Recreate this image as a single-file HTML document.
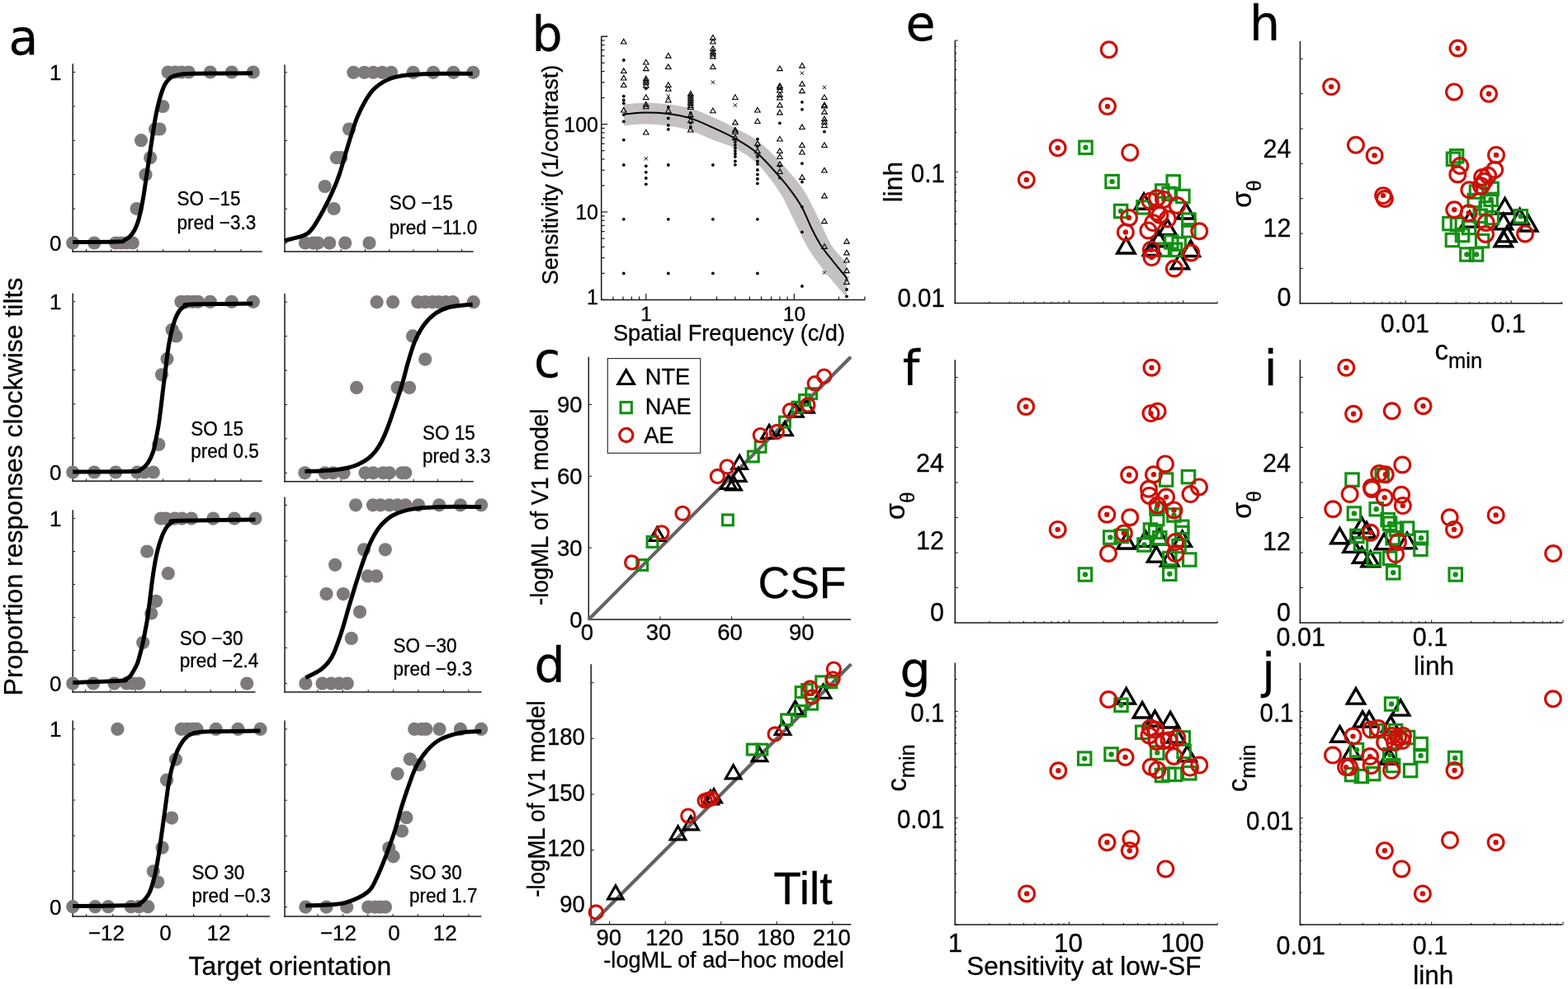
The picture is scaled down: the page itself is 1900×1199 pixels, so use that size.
<!DOCTYPE html>
<html><head><meta charset="utf-8"><title>Figure</title>
<style>html,body{margin:0;padding:0;background:#fff;overflow:hidden}svg{display:block}</style>
</head><body>
<svg width="1900" height="1199" viewBox="0 0 1900 1199">
<rect width="1900" height="1199" fill="#fff"/>
<text x="10.5" y="65.5" font-size="58.5" text-anchor="start" font-family="'DejaVu Sans', 'Liberation Sans', sans-serif" stroke="#000" stroke-width="0.3" >a</text>
<text x="26.5" y="590" font-size="32" text-anchor="middle" font-family="'Liberation Sans', Arial, Helvetica, sans-serif" transform="rotate(-90 26.5 590)" stroke="#000" stroke-width="0.3" >Proportion responses clockwise tilts</text>
<text x="351.4" y="1181.5" font-size="31.8" text-anchor="middle" font-family="'Liberation Sans', Arial, Helvetica, sans-serif" stroke="#000" stroke-width="0.3" >Target orientation</text>
<line x1="88.2" y1="77.3" x2="88.2" y2="305.75" stroke="#1a1a1a" stroke-width="1.5" />
<line x1="87.45" y1="305" x2="317.6" y2="305" stroke="#1a1a1a" stroke-width="1.5" />
<line x1="88.2" y1="294.5" x2="91.2" y2="294.5" stroke="#1a1a1a" stroke-width="1" />
<line x1="88.2" y1="253.1" x2="91.2" y2="253.1" stroke="#1a1a1a" stroke-width="1" />
<line x1="88.2" y1="211.7" x2="91.2" y2="211.7" stroke="#1a1a1a" stroke-width="1" />
<line x1="88.2" y1="170.3" x2="91.2" y2="170.3" stroke="#1a1a1a" stroke-width="1" />
<line x1="88.2" y1="128.9" x2="91.2" y2="128.9" stroke="#1a1a1a" stroke-width="1" />
<line x1="88.2" y1="87.5" x2="91.2" y2="87.5" stroke="#1a1a1a" stroke-width="1" />
<line x1="104.5" y1="305" x2="104.5" y2="302" stroke="#1a1a1a" stroke-width="1" />
<line x1="134.8" y1="305" x2="134.8" y2="302" stroke="#1a1a1a" stroke-width="1" />
<line x1="166.3" y1="305" x2="166.3" y2="302" stroke="#1a1a1a" stroke-width="1" />
<line x1="197.7" y1="305" x2="197.7" y2="302" stroke="#1a1a1a" stroke-width="1" />
<line x1="229.2" y1="305" x2="229.2" y2="302" stroke="#1a1a1a" stroke-width="1" />
<line x1="260.6" y1="305" x2="260.6" y2="302" stroke="#1a1a1a" stroke-width="1" />
<line x1="292" y1="305" x2="292" y2="302" stroke="#1a1a1a" stroke-width="1" />
<circle cx="88.2" cy="294.5" r="8.1" fill="#7e7a7a"/>
<circle cx="114.2" cy="294.5" r="8.1" fill="#7e7a7a"/>
<circle cx="140.2" cy="294.5" r="8.1" fill="#7e7a7a"/>
<circle cx="146.7" cy="294.5" r="8.1" fill="#7e7a7a"/>
<circle cx="153.3" cy="294.5" r="8.1" fill="#7e7a7a"/>
<circle cx="160.8" cy="294.5" r="8.1" fill="#7e7a7a"/>
<circle cx="203.6" cy="87.5" r="8.1" fill="#7e7a7a"/>
<circle cx="212" cy="87.5" r="8.1" fill="#7e7a7a"/>
<circle cx="220" cy="87.5" r="8.1" fill="#7e7a7a"/>
<circle cx="228.7" cy="87.5" r="8.1" fill="#7e7a7a"/>
<circle cx="254.8" cy="87.5" r="8.1" fill="#7e7a7a"/>
<circle cx="280.8" cy="87.5" r="8.1" fill="#7e7a7a"/>
<circle cx="306.8" cy="87.5" r="8.1" fill="#7e7a7a"/>
<circle cx="197.3" cy="129" r="8.1" fill="#7e7a7a"/>
<circle cx="188" cy="156.5" r="8.1" fill="#7e7a7a"/>
<circle cx="193.4" cy="156.5" r="8.1" fill="#7e7a7a"/>
<circle cx="171" cy="170.2" r="8.1" fill="#7e7a7a"/>
<circle cx="182.1" cy="191.2" r="8.1" fill="#7e7a7a"/>
<circle cx="176.5" cy="211.8" r="8.1" fill="#7e7a7a"/>
<circle cx="165.6" cy="253" r="8.1" fill="#7e7a7a"/>
<path d="M88.2,293.6 C97.23,293.52 131.92,293.53 142.4,293.1 C152.88,292.67 148.57,292.08 151.1,291 C153.63,289.92 155.62,288.6 157.6,286.6 C159.58,284.6 161.37,282.07 163,279 C164.63,275.93 166.13,272.17 167.4,268.2 C168.67,264.23 169.52,260.27 170.6,255.2 C171.68,250.13 172.82,244.32 173.9,237.8 C174.98,231.28 176.02,223.32 177.1,216.1 C178.18,208.88 179.32,201.72 180.4,194.5 C181.48,187.28 182.52,180.03 183.6,172.8 C184.68,165.57 185.82,157.62 186.9,151.1 C187.98,144.58 188.83,139.48 190.1,133.7 C191.37,127.92 192.87,121.63 194.5,116.4 C196.13,111.17 197.73,106.1 199.9,102.3 C202.07,98.5 204.43,95.58 207.5,93.6 C210.57,91.62 213.97,91.12 218.3,90.4 C222.63,89.68 218.85,89.57 233.5,89.3 C248.15,89.03 294.08,88.88 306.2,88.8" fill="none" stroke="#000" stroke-width="5"/>
<text x="0" y="0" font-size="22.5" text-anchor="start" font-family="'Liberation Sans', Arial, Helvetica, sans-serif" transform="translate(214.6 249.4) scale(1 1.06)" stroke="#000" stroke-width="0.3" >SO −15</text>
<text x="0" y="0" font-size="22.5" text-anchor="start" font-family="'Liberation Sans', Arial, Helvetica, sans-serif" transform="translate(214.6 278.1) scale(1 1.06)" stroke="#000" stroke-width="0.3" >pred −3.3</text>
<text x="74.5" y="96.8" font-size="26" text-anchor="end" font-family="'Liberation Sans', Arial, Helvetica, sans-serif" stroke="#000" stroke-width="0.3" >1</text>
<text x="74.5" y="303.8" font-size="26" text-anchor="end" font-family="'Liberation Sans', Arial, Helvetica, sans-serif" stroke="#000" stroke-width="0.3" >0</text>
<line x1="345" y1="78.4" x2="345" y2="305.75" stroke="#1a1a1a" stroke-width="1.5" />
<line x1="344.25" y1="305" x2="573.7" y2="305" stroke="#1a1a1a" stroke-width="1.5" />
<line x1="345" y1="294.6" x2="348" y2="294.6" stroke="#1a1a1a" stroke-width="1" />
<line x1="345" y1="253.24" x2="348" y2="253.24" stroke="#1a1a1a" stroke-width="1" />
<line x1="345" y1="211.88" x2="348" y2="211.88" stroke="#1a1a1a" stroke-width="1" />
<line x1="345" y1="170.52" x2="348" y2="170.52" stroke="#1a1a1a" stroke-width="1" />
<line x1="345" y1="129.16" x2="348" y2="129.16" stroke="#1a1a1a" stroke-width="1" />
<line x1="345" y1="87.8" x2="348" y2="87.8" stroke="#1a1a1a" stroke-width="1" />
<line x1="384" y1="305" x2="384" y2="302" stroke="#1a1a1a" stroke-width="1" />
<line x1="413.3" y1="305" x2="413.3" y2="302" stroke="#1a1a1a" stroke-width="1" />
<line x1="442.5" y1="305" x2="442.5" y2="302" stroke="#1a1a1a" stroke-width="1" />
<line x1="471.8" y1="305" x2="471.8" y2="302" stroke="#1a1a1a" stroke-width="1" />
<line x1="501" y1="305" x2="501" y2="302" stroke="#1a1a1a" stroke-width="1" />
<line x1="530.4" y1="305" x2="530.4" y2="302" stroke="#1a1a1a" stroke-width="1" />
<line x1="559.6" y1="305" x2="559.6" y2="302" stroke="#1a1a1a" stroke-width="1" />
<circle cx="369.9" cy="294.6" r="8.1" fill="#7e7a7a"/>
<circle cx="379.6" cy="294.6" r="8.1" fill="#7e7a7a"/>
<circle cx="385.1" cy="294.6" r="8.1" fill="#7e7a7a"/>
<circle cx="399.2" cy="294.6" r="8.1" fill="#7e7a7a"/>
<circle cx="418.2" cy="294.6" r="8.1" fill="#7e7a7a"/>
<circle cx="447.5" cy="294.6" r="8.1" fill="#7e7a7a"/>
<circle cx="428.4" cy="87.8" r="8.1" fill="#7e7a7a"/>
<circle cx="441.4" cy="87.8" r="8.1" fill="#7e7a7a"/>
<circle cx="452.3" cy="87.8" r="8.1" fill="#7e7a7a"/>
<circle cx="463.1" cy="87.8" r="8.1" fill="#7e7a7a"/>
<circle cx="474" cy="87.8" r="8.1" fill="#7e7a7a"/>
<circle cx="500.7" cy="87.8" r="8.1" fill="#7e7a7a"/>
<circle cx="525" cy="87.8" r="8.1" fill="#7e7a7a"/>
<circle cx="549.5" cy="87.8" r="8.1" fill="#7e7a7a"/>
<circle cx="573.3" cy="87.8" r="8.1" fill="#7e7a7a"/>
<circle cx="423" cy="156.5" r="8.1" fill="#7e7a7a"/>
<circle cx="407.8" cy="191.2" r="8.1" fill="#7e7a7a"/>
<circle cx="413.3" cy="191.2" r="8.1" fill="#7e7a7a"/>
<circle cx="393.7" cy="226" r="8.1" fill="#7e7a7a"/>
<circle cx="404.6" cy="253" r="8.1" fill="#7e7a7a"/>
<path d="M345,291.6 C348.78,290.58 362.1,287.95 367.7,285.5 C373.3,283.05 374.62,281.95 378.6,276.9 C382.58,271.85 387.63,262.43 391.6,255.2 C395.57,247.97 399.15,240.73 402.4,233.5 C405.65,226.27 408.57,219.03 411.1,211.8 C413.63,204.57 415.43,197.33 417.6,190.1 C419.77,182.87 421.57,176.35 424.1,168.4 C426.63,160.45 429.55,150.35 432.8,142.4 C436.05,134.45 439.98,126.67 443.6,120.7 C447.22,114.73 449.8,110.75 454.5,106.6 C459.2,102.45 465.3,98.4 471.8,95.8 C478.3,93.2 482.65,92.08 493.5,91 C504.35,89.92 523.7,89.58 536.9,89.3 C550.1,89.02 566.73,89.3 572.7,89.3" fill="none" stroke="#000" stroke-width="5"/>
<text x="0" y="0" font-size="22.5" text-anchor="start" font-family="'Liberation Sans', Arial, Helvetica, sans-serif" transform="translate(471.8 254.2) scale(1 1.06)" stroke="#000" stroke-width="0.3" >SO −15</text>
<text x="0" y="0" font-size="22.5" text-anchor="start" font-family="'Liberation Sans', Arial, Helvetica, sans-serif" transform="translate(471.8 283.5) scale(1 1.06)" stroke="#000" stroke-width="0.3" >pred −11.0</text>
<line x1="88.2" y1="355.6" x2="88.2" y2="584.05" stroke="#1a1a1a" stroke-width="1.5" />
<line x1="87.45" y1="583.3" x2="317.6" y2="583.3" stroke="#1a1a1a" stroke-width="1.5" />
<line x1="88.2" y1="572.5" x2="91.2" y2="572.5" stroke="#1a1a1a" stroke-width="1" />
<line x1="88.2" y1="531.16" x2="91.2" y2="531.16" stroke="#1a1a1a" stroke-width="1" />
<line x1="88.2" y1="489.82" x2="91.2" y2="489.82" stroke="#1a1a1a" stroke-width="1" />
<line x1="88.2" y1="448.48" x2="91.2" y2="448.48" stroke="#1a1a1a" stroke-width="1" />
<line x1="88.2" y1="407.14" x2="91.2" y2="407.14" stroke="#1a1a1a" stroke-width="1" />
<line x1="88.2" y1="365.8" x2="91.2" y2="365.8" stroke="#1a1a1a" stroke-width="1" />
<line x1="104.5" y1="583.3" x2="104.5" y2="580.3" stroke="#1a1a1a" stroke-width="1" />
<line x1="134.8" y1="583.3" x2="134.8" y2="580.3" stroke="#1a1a1a" stroke-width="1" />
<line x1="166.3" y1="583.3" x2="166.3" y2="580.3" stroke="#1a1a1a" stroke-width="1" />
<line x1="197.7" y1="583.3" x2="197.7" y2="580.3" stroke="#1a1a1a" stroke-width="1" />
<line x1="229.2" y1="583.3" x2="229.2" y2="580.3" stroke="#1a1a1a" stroke-width="1" />
<line x1="260.6" y1="583.3" x2="260.6" y2="580.3" stroke="#1a1a1a" stroke-width="1" />
<line x1="292" y1="583.3" x2="292" y2="580.3" stroke="#1a1a1a" stroke-width="1" />
<circle cx="88.2" cy="572.5" r="8.1" fill="#7e7a7a"/>
<circle cx="114.2" cy="572.5" r="8.1" fill="#7e7a7a"/>
<circle cx="140.2" cy="572.5" r="8.1" fill="#7e7a7a"/>
<circle cx="166.3" cy="572.5" r="8.1" fill="#7e7a7a"/>
<circle cx="175" cy="572.5" r="8.1" fill="#7e7a7a"/>
<circle cx="185.8" cy="572.5" r="8.1" fill="#7e7a7a"/>
<circle cx="219.4" cy="365.8" r="8.1" fill="#7e7a7a"/>
<circle cx="227" cy="365.8" r="8.1" fill="#7e7a7a"/>
<circle cx="233.5" cy="365.8" r="8.1" fill="#7e7a7a"/>
<circle cx="240" cy="365.8" r="8.1" fill="#7e7a7a"/>
<circle cx="254.8" cy="365.8" r="8.1" fill="#7e7a7a"/>
<circle cx="280.8" cy="365.8" r="8.1" fill="#7e7a7a"/>
<circle cx="306.8" cy="365.8" r="8.1" fill="#7e7a7a"/>
<circle cx="208.6" cy="399.8" r="8.1" fill="#7e7a7a"/>
<circle cx="213.3" cy="407.4" r="8.1" fill="#7e7a7a"/>
<circle cx="202.5" cy="435.2" r="8.1" fill="#7e7a7a"/>
<circle cx="196" cy="454.3" r="8.1" fill="#7e7a7a"/>
<circle cx="192.3" cy="538.9" r="8.1" fill="#7e7a7a"/>
<path d="M88.2,572 C100.17,571.92 146.37,571.92 160,571.5 C173.63,571.08 167.5,570.42 170,569.5 C172.5,568.58 173.33,567.58 175,566 C176.67,564.42 178.2,563.18 180,560 C181.8,556.82 184.3,551.57 185.8,546.9 C187.3,542.23 187.92,537.43 189,532 C190.08,526.57 191.3,520.63 192.3,514.3 C193.3,507.97 194.1,501.22 195,494 C195.9,486.78 196.78,478.5 197.7,471 C198.62,463.5 199.6,456.23 200.5,449 C201.4,441.77 202.18,434.1 203.1,427.6 C204.02,421.1 204.92,415.42 206,410 C207.08,404.58 208.43,399.27 209.6,395.1 C210.77,390.93 211.55,388.27 213,385 C214.45,381.73 216.3,377.83 218.3,375.5 C220.3,373.17 222.83,372.08 225,371 C227.17,369.92 217.77,369.5 231.3,369 C244.83,368.5 293.72,368.17 306.2,368" fill="none" stroke="#000" stroke-width="5"/>
<text x="0" y="0" font-size="22.5" text-anchor="start" font-family="'Liberation Sans', Arial, Helvetica, sans-serif" transform="translate(231.3 527.5) scale(1 1.06)" stroke="#000" stroke-width="0.3" >SO 15</text>
<text x="0" y="0" font-size="22.5" text-anchor="start" font-family="'Liberation Sans', Arial, Helvetica, sans-serif" transform="translate(231.3 554.6) scale(1 1.06)" stroke="#000" stroke-width="0.3" >pred 0.5</text>
<text x="74.5" y="375.1" font-size="26" text-anchor="end" font-family="'Liberation Sans', Arial, Helvetica, sans-serif" stroke="#000" stroke-width="0.3" >1</text>
<text x="74.5" y="581.8" font-size="26" text-anchor="end" font-family="'Liberation Sans', Arial, Helvetica, sans-serif" stroke="#000" stroke-width="0.3" >0</text>
<line x1="345" y1="356" x2="345" y2="584.45" stroke="#1a1a1a" stroke-width="1.5" />
<line x1="344.25" y1="583.7" x2="573.7" y2="583.7" stroke="#1a1a1a" stroke-width="1.5" />
<line x1="345" y1="573.3" x2="348" y2="573.3" stroke="#1a1a1a" stroke-width="1" />
<line x1="345" y1="531.88" x2="348" y2="531.88" stroke="#1a1a1a" stroke-width="1" />
<line x1="345" y1="490.46" x2="348" y2="490.46" stroke="#1a1a1a" stroke-width="1" />
<line x1="345" y1="449.04" x2="348" y2="449.04" stroke="#1a1a1a" stroke-width="1" />
<line x1="345" y1="407.62" x2="348" y2="407.62" stroke="#1a1a1a" stroke-width="1" />
<line x1="345" y1="366.2" x2="348" y2="366.2" stroke="#1a1a1a" stroke-width="1" />
<line x1="384" y1="583.7" x2="384" y2="580.7" stroke="#1a1a1a" stroke-width="1" />
<line x1="413.3" y1="583.7" x2="413.3" y2="580.7" stroke="#1a1a1a" stroke-width="1" />
<line x1="442.5" y1="583.7" x2="442.5" y2="580.7" stroke="#1a1a1a" stroke-width="1" />
<line x1="471.8" y1="583.7" x2="471.8" y2="580.7" stroke="#1a1a1a" stroke-width="1" />
<line x1="501" y1="583.7" x2="501" y2="580.7" stroke="#1a1a1a" stroke-width="1" />
<line x1="530.4" y1="583.7" x2="530.4" y2="580.7" stroke="#1a1a1a" stroke-width="1" />
<line x1="559.6" y1="583.7" x2="559.6" y2="580.7" stroke="#1a1a1a" stroke-width="1" />
<circle cx="369.4" cy="573.3" r="8.1" fill="#7e7a7a"/>
<circle cx="393.7" cy="573.3" r="8.1" fill="#7e7a7a"/>
<circle cx="403.5" cy="573.3" r="8.1" fill="#7e7a7a"/>
<circle cx="416.5" cy="573.3" r="8.1" fill="#7e7a7a"/>
<circle cx="442.5" cy="573.3" r="8.1" fill="#7e7a7a"/>
<circle cx="452.3" cy="573.3" r="8.1" fill="#7e7a7a"/>
<circle cx="464.2" cy="573.3" r="8.1" fill="#7e7a7a"/>
<circle cx="471.8" cy="573.3" r="8.1" fill="#7e7a7a"/>
<circle cx="487" cy="573.3" r="8.1" fill="#7e7a7a"/>
<circle cx="491.3" cy="573.3" r="8.1" fill="#7e7a7a"/>
<circle cx="456.6" cy="366.2" r="8.1" fill="#7e7a7a"/>
<circle cx="476.1" cy="366.2" r="8.1" fill="#7e7a7a"/>
<circle cx="506.3" cy="366.2" r="8.1" fill="#7e7a7a"/>
<circle cx="515.2" cy="366.2" r="8.1" fill="#7e7a7a"/>
<circle cx="523.9" cy="366.2" r="8.1" fill="#7e7a7a"/>
<circle cx="531.5" cy="366.2" r="8.1" fill="#7e7a7a"/>
<circle cx="540.1" cy="366.2" r="8.1" fill="#7e7a7a"/>
<circle cx="548.8" cy="366.2" r="8.1" fill="#7e7a7a"/>
<circle cx="573.7" cy="366.2" r="8.1" fill="#7e7a7a"/>
<circle cx="500" cy="407.4" r="8.1" fill="#7e7a7a"/>
<circle cx="515.2" cy="435.6" r="8.1" fill="#7e7a7a"/>
<circle cx="432.1" cy="469.9" r="8.1" fill="#7e7a7a"/>
<circle cx="481.6" cy="469.9" r="8.1" fill="#7e7a7a"/>
<circle cx="496.1" cy="469.9" r="8.1" fill="#7e7a7a"/>
<path d="M369.4,571.4 C372.5,571.33 381.77,571.3 388,571 C394.23,570.7 401.13,570.27 406.8,569.6 C412.47,568.93 417.47,568.1 422,567 C426.53,565.9 430,564.83 434,563 C438,561.17 442.5,558.67 446,556 C449.5,553.33 452.25,550.5 455,547 C457.75,543.5 460.08,539.67 462.5,535 C464.92,530.33 466.83,526 469.5,519 C472.17,512 475.5,502 478.5,493 C481.5,484 484.83,474 487.5,465 C490.17,456 491.92,447.67 494.5,439 C497.08,430.33 499.75,420.58 503,413 C506.25,405.42 510,398.92 514,393.5 C518,388.08 522,384 527,380.5 C532,377 536.38,374.42 544,372.5 C551.62,370.58 567.92,369.58 572.7,369" fill="none" stroke="#000" stroke-width="5"/>
<text x="0" y="0" font-size="22.5" text-anchor="start" font-family="'Liberation Sans', Arial, Helvetica, sans-serif" transform="translate(512 532.9) scale(1 1.06)" stroke="#000" stroke-width="0.3" >SO 15</text>
<text x="0" y="0" font-size="22.5" text-anchor="start" font-family="'Liberation Sans', Arial, Helvetica, sans-serif" transform="translate(512 561.1) scale(1 1.06)" stroke="#000" stroke-width="0.3" >pred 3.3</text>
<line x1="88.2" y1="618.2" x2="88.2" y2="839.75" stroke="#1a1a1a" stroke-width="1.5" />
<line x1="87.45" y1="839" x2="309.4" y2="839" stroke="#1a1a1a" stroke-width="1.5" />
<line x1="88.2" y1="828.6" x2="91.2" y2="828.6" stroke="#1a1a1a" stroke-width="1" />
<line x1="88.2" y1="788.6" x2="91.2" y2="788.6" stroke="#1a1a1a" stroke-width="1" />
<line x1="88.2" y1="748.6" x2="91.2" y2="748.6" stroke="#1a1a1a" stroke-width="1" />
<line x1="88.2" y1="708.6" x2="91.2" y2="708.6" stroke="#1a1a1a" stroke-width="1" />
<line x1="88.2" y1="668.6" x2="91.2" y2="668.6" stroke="#1a1a1a" stroke-width="1" />
<line x1="88.2" y1="628.6" x2="91.2" y2="628.6" stroke="#1a1a1a" stroke-width="1" />
<line x1="103.4" y1="839" x2="103.4" y2="836" stroke="#1a1a1a" stroke-width="1" />
<line x1="133.7" y1="839" x2="133.7" y2="836" stroke="#1a1a1a" stroke-width="1" />
<line x1="164.1" y1="839" x2="164.1" y2="836" stroke="#1a1a1a" stroke-width="1" />
<line x1="194.5" y1="839" x2="194.5" y2="836" stroke="#1a1a1a" stroke-width="1" />
<line x1="224.8" y1="839" x2="224.8" y2="836" stroke="#1a1a1a" stroke-width="1" />
<line x1="255.2" y1="839" x2="255.2" y2="836" stroke="#1a1a1a" stroke-width="1" />
<line x1="285.5" y1="839" x2="285.5" y2="836" stroke="#1a1a1a" stroke-width="1" />
<circle cx="88.2" cy="828.6" r="8.1" fill="#7e7a7a"/>
<circle cx="113.1" cy="828.6" r="8.1" fill="#7e7a7a"/>
<circle cx="138.5" cy="828.6" r="8.1" fill="#7e7a7a"/>
<circle cx="153.3" cy="828.6" r="8.1" fill="#7e7a7a"/>
<circle cx="160.8" cy="828.6" r="8.1" fill="#7e7a7a"/>
<circle cx="168.4" cy="828.6" r="8.1" fill="#7e7a7a"/>
<circle cx="299.2" cy="828.6" r="8.1" fill="#7e7a7a"/>
<circle cx="194.9" cy="628.6" r="8.1" fill="#7e7a7a"/>
<circle cx="201" cy="628.6" r="8.1" fill="#7e7a7a"/>
<circle cx="211.8" cy="628.6" r="8.1" fill="#7e7a7a"/>
<circle cx="220.5" cy="628.6" r="8.1" fill="#7e7a7a"/>
<circle cx="232" cy="628.6" r="8.1" fill="#7e7a7a"/>
<circle cx="258.4" cy="628.6" r="8.1" fill="#7e7a7a"/>
<circle cx="284" cy="628.6" r="8.1" fill="#7e7a7a"/>
<circle cx="309.4" cy="628.6" r="8.1" fill="#7e7a7a"/>
<circle cx="178.2" cy="668.5" r="8.1" fill="#7e7a7a"/>
<circle cx="203.8" cy="695.2" r="8.1" fill="#7e7a7a"/>
<circle cx="189" cy="728.8" r="8.1" fill="#7e7a7a"/>
<circle cx="183.2" cy="743.5" r="8.1" fill="#7e7a7a"/>
<circle cx="173.2" cy="779.1" r="8.1" fill="#7e7a7a"/>
<path d="M88.2,827.5 C97.95,827.13 136.07,825.97 146.7,825.3 C157.33,824.63 150.18,824.4 152,823.5 C153.82,822.6 155.93,821.65 157.6,819.9 C159.27,818.15 160.55,815.53 162,813 C163.45,810.47 165.05,807.87 166.3,804.7 C167.55,801.53 168.42,797.98 169.5,794 C170.58,790.02 171.8,785.3 172.8,780.8 C173.8,776.3 174.6,771.68 175.5,767 C176.4,762.32 177.37,757.87 178.2,752.7 C179.03,747.53 179.78,741.43 180.5,736 C181.22,730.57 181.75,726.1 182.5,720.1 C183.25,714.1 184.08,706.5 185,700 C185.92,693.5 187,686.6 188,681.1 C189,675.6 189.92,671.33 191,667 C192.08,662.67 193.25,658.77 194.5,655.1 C195.75,651.43 197.07,647.9 198.5,645 C199.93,642.1 201.35,639.7 203.1,637.7 C204.85,635.7 206.83,634.08 209,633 C211.17,631.92 199.37,631.68 216.1,631.2 C232.83,630.72 293.85,630.28 309.4,630.1" fill="none" stroke="#000" stroke-width="5"/>
<text x="0" y="0" font-size="22.5" text-anchor="start" font-family="'Liberation Sans', Arial, Helvetica, sans-serif" transform="translate(217.7 782) scale(1 1.06)" stroke="#000" stroke-width="0.3" >SO −30</text>
<text x="0" y="0" font-size="22.5" text-anchor="start" font-family="'Liberation Sans', Arial, Helvetica, sans-serif" transform="translate(217.7 809.2) scale(1 1.06)" stroke="#000" stroke-width="0.3" >pred −2.4</text>
<text x="74.5" y="637.9" font-size="26" text-anchor="end" font-family="'Liberation Sans', Arial, Helvetica, sans-serif" stroke="#000" stroke-width="0.3" >1</text>
<text x="74.5" y="837.9" font-size="26" text-anchor="end" font-family="'Liberation Sans', Arial, Helvetica, sans-serif" stroke="#000" stroke-width="0.3" >0</text>
<line x1="345" y1="602.6" x2="345" y2="839.75" stroke="#1a1a1a" stroke-width="1.5" />
<line x1="344.25" y1="839" x2="583.5" y2="839" stroke="#1a1a1a" stroke-width="1.5" />
<line x1="345" y1="828.6" x2="348" y2="828.6" stroke="#1a1a1a" stroke-width="1" />
<line x1="345" y1="785.34" x2="348" y2="785.34" stroke="#1a1a1a" stroke-width="1" />
<line x1="345" y1="742.08" x2="348" y2="742.08" stroke="#1a1a1a" stroke-width="1" />
<line x1="345" y1="698.82" x2="348" y2="698.82" stroke="#1a1a1a" stroke-width="1" />
<line x1="345" y1="655.56" x2="348" y2="655.56" stroke="#1a1a1a" stroke-width="1" />
<line x1="345" y1="612.3" x2="348" y2="612.3" stroke="#1a1a1a" stroke-width="1" />
<line x1="385" y1="839" x2="385" y2="836" stroke="#1a1a1a" stroke-width="1" />
<line x1="415.4" y1="839" x2="415.4" y2="836" stroke="#1a1a1a" stroke-width="1" />
<line x1="446.2" y1="839" x2="446.2" y2="836" stroke="#1a1a1a" stroke-width="1" />
<line x1="476.6" y1="839" x2="476.6" y2="836" stroke="#1a1a1a" stroke-width="1" />
<line x1="507" y1="839" x2="507" y2="836" stroke="#1a1a1a" stroke-width="1" />
<line x1="537.5" y1="839" x2="537.5" y2="836" stroke="#1a1a1a" stroke-width="1" />
<line x1="567.9" y1="839" x2="567.9" y2="836" stroke="#1a1a1a" stroke-width="1" />
<circle cx="370.3" cy="828.6" r="8.1" fill="#7e7a7a"/>
<circle cx="390.5" cy="828.6" r="8.1" fill="#7e7a7a"/>
<circle cx="401.3" cy="828.6" r="8.1" fill="#7e7a7a"/>
<circle cx="411.1" cy="828.6" r="8.1" fill="#7e7a7a"/>
<circle cx="420.8" cy="828.6" r="8.1" fill="#7e7a7a"/>
<circle cx="431" cy="612.3" r="8.1" fill="#7e7a7a"/>
<circle cx="451.9" cy="612.3" r="8.1" fill="#7e7a7a"/>
<circle cx="461" cy="612.3" r="8.1" fill="#7e7a7a"/>
<circle cx="471.8" cy="612.3" r="8.1" fill="#7e7a7a"/>
<circle cx="481.6" cy="612.3" r="8.1" fill="#7e7a7a"/>
<circle cx="491.3" cy="612.3" r="8.1" fill="#7e7a7a"/>
<circle cx="507" cy="612.3" r="8.1" fill="#7e7a7a"/>
<circle cx="532.1" cy="612.3" r="8.1" fill="#7e7a7a"/>
<circle cx="557.9" cy="612.3" r="8.1" fill="#7e7a7a"/>
<circle cx="583.1" cy="612.3" r="8.1" fill="#7e7a7a"/>
<circle cx="441" cy="666.3" r="8.1" fill="#7e7a7a"/>
<circle cx="466.8" cy="666.3" r="8.1" fill="#7e7a7a"/>
<circle cx="406.1" cy="684.8" r="8.1" fill="#7e7a7a"/>
<circle cx="445.8" cy="698.4" r="8.1" fill="#7e7a7a"/>
<circle cx="456.2" cy="698.4" r="8.1" fill="#7e7a7a"/>
<circle cx="395.5" cy="720.1" r="8.1" fill="#7e7a7a"/>
<circle cx="415.9" cy="720.1" r="8.1" fill="#7e7a7a"/>
<circle cx="436" cy="741.8" r="8.1" fill="#7e7a7a"/>
<circle cx="425.8" cy="773.9" r="8.1" fill="#7e7a7a"/>
<path d="M370.3,821.6 C373.48,819.87 384.05,815.47 389.4,811.2 C394.75,806.93 398.42,803.23 402.4,796 C406.38,788.77 409.68,778.63 413.3,767.8 C416.92,756.97 420.85,741.83 424.1,731 C427.35,720.17 429.92,711.85 432.8,702.8 C435.68,693.75 438.52,684.65 441.4,676.7 C444.28,668.75 446.83,661.6 450.1,655.1 C453.37,648.6 456.67,642.77 461,637.7 C465.33,632.63 469.6,628.13 476.1,624.7 C482.6,621.27 489.87,618.8 500,617.1 C510.13,615.4 523.05,614.93 536.9,614.5 C550.75,614.07 575.4,614.5 583.1,614.5" fill="none" stroke="#000" stroke-width="5"/>
<text x="0" y="0" font-size="22.5" text-anchor="start" font-family="'Liberation Sans', Arial, Helvetica, sans-serif" transform="translate(476.6 791.2) scale(1 1.06)" stroke="#000" stroke-width="0.3" >SO −30</text>
<text x="0" y="0" font-size="22.5" text-anchor="start" font-family="'Liberation Sans', Arial, Helvetica, sans-serif" transform="translate(476.6 818.9) scale(1 1.06)" stroke="#000" stroke-width="0.3" >pred −9.3</text>
<line x1="88.2" y1="873.4" x2="88.2" y2="1111.75" stroke="#1a1a1a" stroke-width="1.5" />
<line x1="87.45" y1="1111" x2="327" y2="1111" stroke="#1a1a1a" stroke-width="1.5" />
<line x1="88.2" y1="1099.2" x2="91.2" y2="1099.2" stroke="#1a1a1a" stroke-width="1" />
<line x1="88.2" y1="1056.14" x2="91.2" y2="1056.14" stroke="#1a1a1a" stroke-width="1" />
<line x1="88.2" y1="1013.08" x2="91.2" y2="1013.08" stroke="#1a1a1a" stroke-width="1" />
<line x1="88.2" y1="970.02" x2="91.2" y2="970.02" stroke="#1a1a1a" stroke-width="1" />
<line x1="88.2" y1="926.96" x2="91.2" y2="926.96" stroke="#1a1a1a" stroke-width="1" />
<line x1="88.2" y1="883.9" x2="91.2" y2="883.9" stroke="#1a1a1a" stroke-width="1" />
<line x1="104.6" y1="1111" x2="104.6" y2="1108" stroke="#1a1a1a" stroke-width="1" />
<line x1="136.8" y1="1111" x2="136.8" y2="1108" stroke="#1a1a1a" stroke-width="1" />
<line x1="168.9" y1="1111" x2="168.9" y2="1108" stroke="#1a1a1a" stroke-width="1" />
<line x1="201.5" y1="1111" x2="201.5" y2="1108" stroke="#1a1a1a" stroke-width="1" />
<line x1="234.6" y1="1111" x2="234.6" y2="1108" stroke="#1a1a1a" stroke-width="1" />
<line x1="267.1" y1="1111" x2="267.1" y2="1108" stroke="#1a1a1a" stroke-width="1" />
<line x1="299.6" y1="1111" x2="299.6" y2="1108" stroke="#1a1a1a" stroke-width="1" />
<circle cx="88.2" cy="1099.2" r="8.1" fill="#7e7a7a"/>
<circle cx="115.3" cy="1099.2" r="8.1" fill="#7e7a7a"/>
<circle cx="131.1" cy="1099.2" r="8.1" fill="#7e7a7a"/>
<circle cx="158.7" cy="1099.2" r="8.1" fill="#7e7a7a"/>
<circle cx="168.4" cy="1099.2" r="8.1" fill="#7e7a7a"/>
<circle cx="179.3" cy="1099.2" r="8.1" fill="#7e7a7a"/>
<circle cx="142.4" cy="883.9" r="8.1" fill="#7e7a7a"/>
<circle cx="219.8" cy="883.9" r="8.1" fill="#7e7a7a"/>
<circle cx="227" cy="883.9" r="8.1" fill="#7e7a7a"/>
<circle cx="233.5" cy="883.9" r="8.1" fill="#7e7a7a"/>
<circle cx="238.5" cy="883.9" r="8.1" fill="#7e7a7a"/>
<circle cx="261.7" cy="883.9" r="8.1" fill="#7e7a7a"/>
<circle cx="288.4" cy="883.9" r="8.1" fill="#7e7a7a"/>
<circle cx="315.5" cy="883.9" r="8.1" fill="#7e7a7a"/>
<circle cx="212.9" cy="920.7" r="8.1" fill="#7e7a7a"/>
<circle cx="202" cy="945.7" r="8.1" fill="#7e7a7a"/>
<circle cx="208.1" cy="991.6" r="8.1" fill="#7e7a7a"/>
<circle cx="196.6" cy="1027.6" r="8.1" fill="#7e7a7a"/>
<circle cx="185.8" cy="1056.3" r="8.1" fill="#7e7a7a"/>
<circle cx="191.2" cy="1069.3" r="8.1" fill="#7e7a7a"/>
<path d="M88.2,1098.6 C100.48,1098.42 148.6,1097.93 161.9,1097.5 C175.2,1097.07 166.18,1096.73 168,1096 C169.82,1095.27 171.22,1094.43 172.8,1093.1 C174.38,1091.77 176.05,1089.98 177.5,1088 C178.95,1086.02 180.25,1084.03 181.5,1081.2 C182.75,1078.37 183.92,1074.62 185,1071 C186.08,1067.38 187.03,1063.83 188,1059.5 C188.97,1055.17 189.9,1050.05 190.8,1045 C191.7,1039.95 192.53,1035.03 193.4,1029.2 C194.27,1023.37 195.1,1016.52 196,1010 C196.9,1003.48 197.88,996.77 198.8,990.1 C199.72,983.43 200.6,976.5 201.5,970 C202.4,963.5 203.23,956.93 204.2,951.1 C205.17,945.27 206.22,939.7 207.3,935 C208.38,930.3 209.42,927.07 210.7,922.9 C211.98,918.73 213.37,913.8 215,910 C216.63,906.2 218.67,902.85 220.5,900.1 C222.33,897.35 223.83,895.3 226,893.5 C228.17,891.7 229.5,890.38 233.5,889.3 C237.5,888.22 236.33,887.55 250,887 C263.67,886.45 304.58,886.17 315.5,886" fill="none" stroke="#000" stroke-width="5"/>
<text x="0" y="0" font-size="22.5" text-anchor="start" font-family="'Liberation Sans', Arial, Helvetica, sans-serif" transform="translate(232.4 1066.2) scale(1 1.06)" stroke="#000" stroke-width="0.3" >SO 30</text>
<text x="0" y="0" font-size="22.5" text-anchor="start" font-family="'Liberation Sans', Arial, Helvetica, sans-serif" transform="translate(232.4 1094.3) scale(1 1.06)" stroke="#000" stroke-width="0.3" >pred −0.3</text>
<text x="74.5" y="893.2" font-size="26" text-anchor="end" font-family="'Liberation Sans', Arial, Helvetica, sans-serif" stroke="#000" stroke-width="0.3" >1</text>
<text x="74.5" y="1108.5" font-size="26" text-anchor="end" font-family="'Liberation Sans', Arial, Helvetica, sans-serif" stroke="#000" stroke-width="0.3" >0</text>
<line x1="345" y1="873.4" x2="345" y2="1111.75" stroke="#1a1a1a" stroke-width="1.5" />
<line x1="344.25" y1="1111" x2="583.5" y2="1111" stroke="#1a1a1a" stroke-width="1.5" />
<line x1="345" y1="1099.6" x2="348" y2="1099.6" stroke="#1a1a1a" stroke-width="1" />
<line x1="345" y1="1056.46" x2="348" y2="1056.46" stroke="#1a1a1a" stroke-width="1" />
<line x1="345" y1="1013.32" x2="348" y2="1013.32" stroke="#1a1a1a" stroke-width="1" />
<line x1="345" y1="970.18" x2="348" y2="970.18" stroke="#1a1a1a" stroke-width="1" />
<line x1="345" y1="927.04" x2="348" y2="927.04" stroke="#1a1a1a" stroke-width="1" />
<line x1="345" y1="883.9" x2="348" y2="883.9" stroke="#1a1a1a" stroke-width="1" />
<line x1="385" y1="1111" x2="385" y2="1108" stroke="#1a1a1a" stroke-width="1" />
<line x1="415.4" y1="1111" x2="415.4" y2="1108" stroke="#1a1a1a" stroke-width="1" />
<line x1="445.8" y1="1111" x2="445.8" y2="1108" stroke="#1a1a1a" stroke-width="1" />
<line x1="476.1" y1="1111" x2="476.1" y2="1108" stroke="#1a1a1a" stroke-width="1" />
<line x1="506.5" y1="1111" x2="506.5" y2="1108" stroke="#1a1a1a" stroke-width="1" />
<line x1="537.5" y1="1111" x2="537.5" y2="1108" stroke="#1a1a1a" stroke-width="1" />
<line x1="567.9" y1="1111" x2="567.9" y2="1108" stroke="#1a1a1a" stroke-width="1" />
<circle cx="370.3" cy="1099.6" r="8.1" fill="#7e7a7a"/>
<circle cx="395.5" cy="1099.6" r="8.1" fill="#7e7a7a"/>
<circle cx="420.2" cy="1099.6" r="8.1" fill="#7e7a7a"/>
<circle cx="446.2" cy="1099.6" r="8.1" fill="#7e7a7a"/>
<circle cx="454.5" cy="1099.6" r="8.1" fill="#7e7a7a"/>
<circle cx="461" cy="1099.6" r="8.1" fill="#7e7a7a"/>
<circle cx="467" cy="1099.6" r="8.1" fill="#7e7a7a"/>
<circle cx="502.2" cy="883.9" r="8.1" fill="#7e7a7a"/>
<circle cx="510.8" cy="883.9" r="8.1" fill="#7e7a7a"/>
<circle cx="516.3" cy="883.9" r="8.1" fill="#7e7a7a"/>
<circle cx="532.5" cy="883.9" r="8.1" fill="#7e7a7a"/>
<circle cx="557.9" cy="883.9" r="8.1" fill="#7e7a7a"/>
<circle cx="583.1" cy="883.9" r="8.1" fill="#7e7a7a"/>
<circle cx="496.8" cy="920.3" r="8.1" fill="#7e7a7a"/>
<circle cx="508.2" cy="927.2" r="8.1" fill="#7e7a7a"/>
<circle cx="481.6" cy="938.1" r="8.1" fill="#7e7a7a"/>
<circle cx="492.4" cy="991.2" r="8.1" fill="#7e7a7a"/>
<circle cx="487" cy="1007.5" r="8.1" fill="#7e7a7a"/>
<circle cx="471.2" cy="1028.1" r="8.1" fill="#7e7a7a"/>
<circle cx="476.6" cy="1038.3" r="8.1" fill="#7e7a7a"/>
<path d="M370.3,1097.9 C374.57,1097.75 387.58,1097.68 395.9,1097 C404.22,1096.32 411.88,1096.43 420.2,1093.8 C428.52,1091.17 439.73,1086.18 445.8,1081.2 C451.87,1076.22 452.98,1071.13 456.6,1063.9 C460.22,1056.67 463.88,1047.2 467.5,1037.8 C471.12,1028.4 475.05,1017.62 478.3,1007.5 C481.55,997.38 484.1,986.5 487,977.1 C489.9,967.7 492.82,959.05 495.7,951.1 C498.58,943.15 500.68,936.27 504.3,929.4 C507.92,922.53 512.52,915.4 517.4,909.9 C522.28,904.4 526.73,900.02 533.6,896.4 C540.47,892.78 550.35,889.85 558.6,888.2 C566.85,886.55 579.02,886.78 583.1,886.5" fill="none" stroke="#000" stroke-width="5"/>
<text x="0" y="0" font-size="22.5" text-anchor="start" font-family="'Liberation Sans', Arial, Helvetica, sans-serif" transform="translate(496.1 1066.2) scale(1 1.06)" stroke="#000" stroke-width="0.3" >SO 30</text>
<text x="0" y="0" font-size="22.5" text-anchor="start" font-family="'Liberation Sans', Arial, Helvetica, sans-serif" transform="translate(496.1 1094.3) scale(1 1.06)" stroke="#000" stroke-width="0.3" >pred 1.7</text>
<text x="129" y="1140" font-size="26" text-anchor="middle" font-family="'Liberation Sans', Arial, Helvetica, sans-serif" stroke="#000" stroke-width="0.3" >−12</text>
<text x="200.5" y="1140" font-size="26" text-anchor="middle" font-family="'Liberation Sans', Arial, Helvetica, sans-serif" stroke="#000" stroke-width="0.3" >0</text>
<text x="265" y="1140" font-size="26" text-anchor="middle" font-family="'Liberation Sans', Arial, Helvetica, sans-serif" stroke="#000" stroke-width="0.3" >12</text>
<text x="410" y="1140" font-size="26" text-anchor="middle" font-family="'Liberation Sans', Arial, Helvetica, sans-serif" stroke="#000" stroke-width="0.3" >−12</text>
<text x="477.6" y="1140" font-size="26" text-anchor="middle" font-family="'Liberation Sans', Arial, Helvetica, sans-serif" stroke="#000" stroke-width="0.3" >0</text>
<text x="539.2" y="1140" font-size="26" text-anchor="middle" font-family="'Liberation Sans', Arial, Helvetica, sans-serif" stroke="#000" stroke-width="0.3" >12</text>
<text x="644.5" y="61.8" font-size="58.5" text-anchor="start" font-family="'DejaVu Sans', 'Liberation Sans', sans-serif" stroke="#000" stroke-width="0.3" >b</text>
<path d="M755.9,126.4 C760.38,126.12 773.83,124.7 782.8,124.7 C791.77,124.7 800.73,125.3 809.7,126.4 C818.67,127.5 827.58,128.7 836.6,131.3 C845.62,133.9 854.75,138 863.8,142 C872.85,146 881.87,150.52 890.9,155.3 C899.93,160.08 908.98,163.92 918,170.7 C927.02,177.48 935.98,186.45 945,196 C954.02,205.55 964.47,216.87 972.1,228 C979.73,239.13 984.82,251.13 990.8,262.8 C996.78,274.47 1002.13,288.72 1008,298 C1013.87,307.28 1023,315.08 1026,318.5 L1026,361 C1021.67,355.83 1007.88,340.17 1000,330 C992.12,319.83 985.37,311.2 978.7,300 C972.03,288.8 965.62,273.9 960,262.8 C954.38,251.7 952,244.08 945,233.4 C938,222.72 927.02,207.6 918,198.7 C908.98,189.8 899.93,184.85 890.9,180 C881.87,175.15 872.85,173.22 863.8,169.6 C854.75,165.98 845.62,161.13 836.6,158.3 C827.58,155.47 818.67,153.9 809.7,152.6 C800.73,151.3 791.77,150.57 782.8,150.5 C773.83,150.43 760.38,151.92 755.9,152.2 Z" fill="#c5c1c1" stroke="none"/>
<path d="M755.9,138.4 C760.38,138.1 773.83,136.67 782.8,136.6 C791.77,136.53 800.73,136.87 809.7,138 C818.67,139.13 827.58,140.62 836.6,143.4 C845.62,146.18 854.75,150.6 863.8,154.7 C872.85,158.8 881.87,162.78 890.9,168 C899.93,173.22 908.98,178.22 918,186 C927.02,193.78 938,206.8 945,214.7 C952,222.6 955.48,227.18 960,233.4 C964.52,239.62 968.1,244.57 972.1,252 C976.1,259.43 980.18,270.33 984,278 C987.82,285.67 990.67,291.42 995,298 C999.33,304.58 1004.83,311 1010,317.5 C1015.17,324 1023.33,333.75 1026,337" fill="none" stroke="#000" stroke-width="2"/>
<circle cx="755.78" cy="73" r="1.9" fill="#000"/>
<circle cx="755.78" cy="116.7" r="1.9" fill="#000"/>
<circle cx="755.78" cy="121.4" r="1.9" fill="#000"/>
<circle cx="755.78" cy="125.2" r="1.9" fill="#000"/>
<circle cx="755.78" cy="139.1" r="1.9" fill="#000"/>
<circle cx="755.78" cy="147.3" r="1.9" fill="#000"/>
<circle cx="755.78" cy="169.6" r="1.9" fill="#000"/>
<circle cx="755.78" cy="200" r="1.9" fill="#000"/>
<circle cx="755.78" cy="265.8" r="1.9" fill="#000"/>
<circle cx="755.78" cy="331.4" r="1.9" fill="#000"/>
<polygon points="755.78,47.36 752.48,53.07 759.08,53.07" fill="none" stroke="#000" stroke-width="1.1"/>
<polygon points="755.78,82.86 752.48,88.57 759.08,88.57" fill="none" stroke="#000" stroke-width="1.1"/>
<polygon points="755.78,91.36 752.48,97.07 759.08,97.07" fill="none" stroke="#000" stroke-width="1.1"/>
<polygon points="755.78,99.86 752.48,105.57 759.08,105.57" fill="none" stroke="#000" stroke-width="1.1"/>
<polygon points="755.78,130.36 752.48,136.07 759.08,136.07" fill="none" stroke="#000" stroke-width="1.1"/>
<circle cx="782.8" cy="107.2" r="1.9" fill="#000"/>
<circle cx="782.8" cy="201.3" r="1.9" fill="#000"/>
<circle cx="782.8" cy="208.8" r="1.9" fill="#000"/>
<circle cx="782.8" cy="216" r="1.9" fill="#000"/>
<circle cx="782.8" cy="223.3" r="1.9" fill="#000"/>
<path d="M780.6,190.1 L785,194.5 M780.6,194.5 L785,190.1" stroke="#000" stroke-width="1"/>
<polygon points="782.8,72.26 779.5,77.97 786.1,77.97" fill="none" stroke="#000" stroke-width="1.1"/>
<polygon points="782.8,79.96 779.5,85.67 786.1,85.67" fill="none" stroke="#000" stroke-width="1.1"/>
<polygon points="782.8,92.06 779.5,97.77 786.1,97.77" fill="none" stroke="#000" stroke-width="1.1"/>
<polygon points="782.8,94.56 779.5,100.27 786.1,100.27" fill="none" stroke="#000" stroke-width="1.1"/>
<polygon points="782.8,97.06 779.5,102.77 786.1,102.77" fill="none" stroke="#000" stroke-width="1.1"/>
<polygon points="782.8,100.56 779.5,106.27 786.1,106.27" fill="none" stroke="#000" stroke-width="1.1"/>
<polygon points="782.8,114.76 779.5,120.47 786.1,120.47" fill="none" stroke="#000" stroke-width="1.1"/>
<polygon points="782.8,123.26 779.5,128.97 786.1,128.97" fill="none" stroke="#000" stroke-width="1.1"/>
<polygon points="782.8,126.06 779.5,131.77 786.1,131.77" fill="none" stroke="#000" stroke-width="1.1"/>
<polygon points="782.8,157.26 779.5,162.97 786.1,162.97" fill="none" stroke="#000" stroke-width="1.1"/>
<circle cx="809.82" cy="130" r="1.9" fill="#000"/>
<circle cx="809.82" cy="143.4" r="1.9" fill="#000"/>
<circle cx="809.82" cy="151.9" r="1.9" fill="#000"/>
<circle cx="809.82" cy="156.8" r="1.9" fill="#000"/>
<circle cx="809.82" cy="200" r="1.9" fill="#000"/>
<circle cx="809.82" cy="265.8" r="1.9" fill="#000"/>
<circle cx="809.82" cy="331.4" r="1.9" fill="#000"/>
<path d="M807.62,114.5 L812.02,118.9 M807.62,118.9 L812.02,114.5" stroke="#000" stroke-width="1"/>
<polygon points="809.82,64.46 806.52,70.17 813.12,70.17" fill="none" stroke="#000" stroke-width="1.1"/>
<polygon points="809.82,77.86 806.52,83.57 813.12,83.57" fill="none" stroke="#000" stroke-width="1.1"/>
<polygon points="809.82,99.86 806.52,105.57 813.12,105.57" fill="none" stroke="#000" stroke-width="1.1"/>
<polygon points="809.82,104.56 806.52,110.27 813.12,110.27" fill="none" stroke="#000" stroke-width="1.1"/>
<polygon points="809.82,118.26 806.52,123.97 813.12,123.97" fill="none" stroke="#000" stroke-width="1.1"/>
<polygon points="809.82,131.06 806.52,136.77 813.12,136.77" fill="none" stroke="#000" stroke-width="1.1"/>
<circle cx="836.83" cy="137" r="1.9" fill="#000"/>
<circle cx="836.83" cy="142" r="1.9" fill="#000"/>
<circle cx="836.83" cy="149" r="1.9" fill="#000"/>
<circle cx="836.83" cy="154" r="1.9" fill="#000"/>
<polygon points="836.83,110.46 833.53,116.17 840.13,116.17" fill="none" stroke="#000" stroke-width="1.1"/>
<polygon points="836.83,113.36 833.53,119.07 840.13,119.07" fill="none" stroke="#000" stroke-width="1.1"/>
<polygon points="836.83,116.16 833.53,121.87 840.13,121.87" fill="none" stroke="#000" stroke-width="1.1"/>
<polygon points="836.83,118.96 833.53,124.67 840.13,124.67" fill="none" stroke="#000" stroke-width="1.1"/>
<polygon points="836.83,121.86 833.53,127.57 840.13,127.57" fill="none" stroke="#000" stroke-width="1.1"/>
<polygon points="836.83,124.66 833.53,130.37 840.13,130.37" fill="none" stroke="#000" stroke-width="1.1"/>
<polygon points="836.83,126.76 833.53,132.47 840.13,132.47" fill="none" stroke="#000" stroke-width="1.1"/>
<polygon points="836.83,135.96 833.53,141.67 840.13,141.67" fill="none" stroke="#000" stroke-width="1.1"/>
<polygon points="836.83,143.06 833.53,148.77 840.13,148.77" fill="none" stroke="#000" stroke-width="1.1"/>
<polygon points="836.83,154.36 833.53,160.07 840.13,160.07" fill="none" stroke="#000" stroke-width="1.1"/>
<circle cx="863.85" cy="200" r="1.9" fill="#000"/>
<circle cx="863.85" cy="265.8" r="1.9" fill="#000"/>
<circle cx="863.85" cy="331.4" r="1.9" fill="#000"/>
<path d="M861.65,97.5 L866.05,101.9 M861.65,101.9 L866.05,97.5" stroke="#000" stroke-width="1"/>
<polygon points="863.85,42.46 860.55,48.17 867.15,48.17" fill="none" stroke="#000" stroke-width="1.1"/>
<polygon points="863.85,47.36 860.55,53.07 867.15,53.07" fill="none" stroke="#000" stroke-width="1.1"/>
<polygon points="863.85,55.86 860.55,61.57 867.15,61.57" fill="none" stroke="#000" stroke-width="1.1"/>
<polygon points="863.85,59.46 860.55,65.17 867.15,65.17" fill="none" stroke="#000" stroke-width="1.1"/>
<polygon points="863.85,62.26 860.55,67.97 867.15,67.97" fill="none" stroke="#000" stroke-width="1.1"/>
<polygon points="863.85,65.16 860.55,70.87 867.15,70.87" fill="none" stroke="#000" stroke-width="1.1"/>
<polygon points="863.85,77.86 860.55,83.57 867.15,83.57" fill="none" stroke="#000" stroke-width="1.1"/>
<polygon points="863.85,131.06 860.55,136.77 867.15,136.77" fill="none" stroke="#000" stroke-width="1.1"/>
<circle cx="890.87" cy="172" r="1.9" fill="#000"/>
<circle cx="890.87" cy="175.8" r="1.9" fill="#000"/>
<circle cx="890.87" cy="179.3" r="1.9" fill="#000"/>
<circle cx="890.87" cy="183" r="1.9" fill="#000"/>
<circle cx="890.87" cy="186.5" r="1.9" fill="#000"/>
<circle cx="890.87" cy="190" r="1.9" fill="#000"/>
<circle cx="890.87" cy="195.5" r="1.9" fill="#000"/>
<circle cx="890.87" cy="199.8" r="1.9" fill="#000"/>
<path d="M888.67,125.3 L893.07,129.7 M888.67,129.7 L893.07,125.3" stroke="#000" stroke-width="1"/>
<path d="M888.67,166 L893.07,170.4 M888.67,170.4 L893.07,166" stroke="#000" stroke-width="1"/>
<polygon points="890.87,114.76 887.57,120.47 894.17,120.47" fill="none" stroke="#000" stroke-width="1.1"/>
<polygon points="890.87,145.16 887.57,150.87 894.17,150.87" fill="none" stroke="#000" stroke-width="1.1"/>
<polygon points="890.87,154.36 887.57,160.07 894.17,160.07" fill="none" stroke="#000" stroke-width="1.1"/>
<polygon points="890.87,156.56 887.57,162.27 894.17,162.27" fill="none" stroke="#000" stroke-width="1.1"/>
<polygon points="890.87,163.66 887.57,169.37 894.17,169.37" fill="none" stroke="#000" stroke-width="1.1"/>
<circle cx="917.89" cy="168.6" r="1.9" fill="#000"/>
<circle cx="917.89" cy="177.5" r="1.9" fill="#000"/>
<circle cx="917.89" cy="190" r="1.9" fill="#000"/>
<circle cx="917.89" cy="195.5" r="1.9" fill="#000"/>
<circle cx="917.89" cy="199" r="1.9" fill="#000"/>
<circle cx="917.89" cy="206" r="1.9" fill="#000"/>
<circle cx="917.89" cy="211.6" r="1.9" fill="#000"/>
<circle cx="917.89" cy="217" r="1.9" fill="#000"/>
<circle cx="917.89" cy="222.4" r="1.9" fill="#000"/>
<circle cx="917.89" cy="265.8" r="1.9" fill="#000"/>
<circle cx="917.89" cy="331.4" r="1.9" fill="#000"/>
<path d="M915.69,184.4 L920.09,188.8 M915.69,188.8 L920.09,184.4" stroke="#000" stroke-width="1"/>
<polygon points="917.89,130.36 914.59,136.07 921.19,136.07" fill="none" stroke="#000" stroke-width="1.1"/>
<polygon points="917.89,143.76 914.59,149.47 921.19,149.47" fill="none" stroke="#000" stroke-width="1.1"/>
<polygon points="917.89,170.66 914.59,176.37 921.19,176.37" fill="none" stroke="#000" stroke-width="1.1"/>
<polygon points="917.89,179.96 914.59,185.67 921.19,185.67" fill="none" stroke="#000" stroke-width="1.1"/>
<circle cx="944.9" cy="149.3" r="1.9" fill="#000"/>
<circle cx="944.9" cy="201.3" r="1.9" fill="#000"/>
<circle cx="944.9" cy="215.5" r="1.9" fill="#000"/>
<polygon points="944.9,79.96 941.6,85.67 948.2,85.67" fill="none" stroke="#000" stroke-width="1.1"/>
<polygon points="944.9,100.86 941.6,106.57 948.2,106.57" fill="none" stroke="#000" stroke-width="1.1"/>
<polygon points="944.9,102.66 941.6,108.37 948.2,108.37" fill="none" stroke="#000" stroke-width="1.1"/>
<polygon points="944.9,106.26 941.6,111.97 948.2,111.97" fill="none" stroke="#000" stroke-width="1.1"/>
<polygon points="944.9,111.66 941.6,117.37 948.2,117.37" fill="none" stroke="#000" stroke-width="1.1"/>
<polygon points="944.9,115.26 941.6,120.97 948.2,120.97" fill="none" stroke="#000" stroke-width="1.1"/>
<polygon points="944.9,124.16 941.6,129.87 948.2,129.87" fill="none" stroke="#000" stroke-width="1.1"/>
<polygon points="944.9,133.16 941.6,138.87 948.2,138.87" fill="none" stroke="#000" stroke-width="1.1"/>
<polygon points="944.9,165.26 941.6,170.97 948.2,170.97" fill="none" stroke="#000" stroke-width="1.1"/>
<polygon points="944.9,179.86 941.6,185.57 948.2,185.57" fill="none" stroke="#000" stroke-width="1.1"/>
<polygon points="944.9,186.86 941.6,192.57 948.2,192.57" fill="none" stroke="#000" stroke-width="1.1"/>
<polygon points="944.9,195.86 941.6,201.57 948.2,201.57" fill="none" stroke="#000" stroke-width="1.1"/>
<polygon points="944.9,204.86 941.6,210.57 948.2,210.57" fill="none" stroke="#000" stroke-width="1.1"/>
<circle cx="971.92" cy="123.8" r="1.9" fill="#000"/>
<circle cx="971.92" cy="132.7" r="1.9" fill="#000"/>
<circle cx="971.92" cy="198.2" r="1.9" fill="#000"/>
<circle cx="971.92" cy="220.5" r="1.9" fill="#000"/>
<circle cx="971.92" cy="250.8" r="1.9" fill="#000"/>
<circle cx="971.92" cy="281.3" r="1.9" fill="#000"/>
<circle cx="971.92" cy="347" r="1.9" fill="#000"/>
<path d="M969.72,86.5 L974.12,90.9 M969.72,90.9 L974.12,86.5" stroke="#000" stroke-width="1"/>
<polygon points="971.92,76.46 968.62,82.17 975.22,82.17" fill="none" stroke="#000" stroke-width="1.1"/>
<polygon points="971.92,98.46 968.62,104.17 975.22,104.17" fill="none" stroke="#000" stroke-width="1.1"/>
<polygon points="971.92,106.96 968.62,112.67 975.22,112.67" fill="none" stroke="#000" stroke-width="1.1"/>
<polygon points="971.92,150.86 968.62,156.57 975.22,156.57" fill="none" stroke="#000" stroke-width="1.1"/>
<polygon points="971.92,172.86 968.62,178.57 975.22,178.57" fill="none" stroke="#000" stroke-width="1.1"/>
<polygon points="971.92,181.36 968.62,187.07 975.22,187.07" fill="none" stroke="#000" stroke-width="1.1"/>
<polygon points="971.92,211.66 968.62,217.37 975.22,217.37" fill="none" stroke="#000" stroke-width="1.1"/>
<circle cx="998.94" cy="159.7" r="1.9" fill="#000"/>
<path d="M996.74,103.6 L1001.14,108 M996.74,108 L1001.14,103.6" stroke="#000" stroke-width="1"/>
<path d="M996.74,328.2 L1001.14,332.6 M996.74,332.6 L1001.14,328.2" stroke="#000" stroke-width="1"/>
<polygon points="998.94,114.76 995.64,120.47 1002.24,120.47" fill="none" stroke="#000" stroke-width="1.1"/>
<polygon points="998.94,123.96 995.64,129.67 1002.24,129.67" fill="none" stroke="#000" stroke-width="1.1"/>
<polygon points="998.94,125.36 995.64,131.07 1002.24,131.07" fill="none" stroke="#000" stroke-width="1.1"/>
<polygon points="998.94,132.46 995.64,138.17 1002.24,138.17" fill="none" stroke="#000" stroke-width="1.1"/>
<polygon points="998.94,140.96 995.64,146.67 1002.24,146.67" fill="none" stroke="#000" stroke-width="1.1"/>
<polygon points="998.94,144.46 995.64,150.17 1002.24,150.17" fill="none" stroke="#000" stroke-width="1.1"/>
<polygon points="998.94,148.76 995.64,154.47 1002.24,154.47" fill="none" stroke="#000" stroke-width="1.1"/>
<polygon points="998.94,172.86 995.64,178.57 1002.24,178.57" fill="none" stroke="#000" stroke-width="1.1"/>
<polygon points="998.94,203.36 995.64,209.07 1002.24,209.07" fill="none" stroke="#000" stroke-width="1.1"/>
<polygon points="998.94,234.16 995.64,239.87 1002.24,239.87" fill="none" stroke="#000" stroke-width="1.1"/>
<polygon points="998.94,264.96 995.64,270.67 1002.24,270.67" fill="none" stroke="#000" stroke-width="1.1"/>
<polygon points="998.94,295.66 995.64,301.37 1002.24,301.37" fill="none" stroke="#000" stroke-width="1.1"/>
<circle cx="1025.96" cy="350.9" r="1.9" fill="#000"/>
<circle cx="1025.96" cy="359.3" r="1.9" fill="#000"/>
<path d="M1023.76,335.7 L1028.16,340.1 M1023.76,340.1 L1028.16,335.7" stroke="#000" stroke-width="1"/>
<polygon points="1025.96,289.46 1022.66,295.17 1029.26,295.17" fill="none" stroke="#000" stroke-width="1.1"/>
<polygon points="1025.96,303.16 1022.66,308.87 1029.26,308.87" fill="none" stroke="#000" stroke-width="1.1"/>
<polygon points="1025.96,312.26 1022.66,317.97 1029.26,317.97" fill="none" stroke="#000" stroke-width="1.1"/>
<polygon points="1025.96,324.96 1022.66,330.67 1029.26,330.67" fill="none" stroke="#000" stroke-width="1.1"/>
<polygon points="1025.96,338.76 1022.66,344.47 1029.26,344.47" fill="none" stroke="#000" stroke-width="1.1"/>
<line x1="728.7" y1="44.2" x2="728.7" y2="364.1" stroke="#1a1a1a" stroke-width="1.5" />
<line x1="728" y1="363.4" x2="1048.3" y2="363.4" stroke="#1a1a1a" stroke-width="1.5" />
<line x1="728.7" y1="363.4" x2="736.2" y2="363.4" stroke="#1a1a1a" stroke-width="1.2" />
<line x1="728.7" y1="331.37" x2="732.7" y2="331.37" stroke="#1a1a1a" stroke-width="1.2" />
<line x1="728.7" y1="312.63" x2="732.7" y2="312.63" stroke="#1a1a1a" stroke-width="1.2" />
<line x1="728.7" y1="299.34" x2="732.7" y2="299.34" stroke="#1a1a1a" stroke-width="1.2" />
<line x1="728.7" y1="289.03" x2="732.7" y2="289.03" stroke="#1a1a1a" stroke-width="1.2" />
<line x1="728.7" y1="280.6" x2="732.7" y2="280.6" stroke="#1a1a1a" stroke-width="1.2" />
<line x1="728.7" y1="273.48" x2="732.7" y2="273.48" stroke="#1a1a1a" stroke-width="1.2" />
<line x1="728.7" y1="267.31" x2="732.7" y2="267.31" stroke="#1a1a1a" stroke-width="1.2" />
<line x1="728.7" y1="261.87" x2="732.7" y2="261.87" stroke="#1a1a1a" stroke-width="1.2" />
<line x1="728.7" y1="257" x2="736.2" y2="257" stroke="#1a1a1a" stroke-width="1.2" />
<line x1="728.7" y1="224.97" x2="732.7" y2="224.97" stroke="#1a1a1a" stroke-width="1.2" />
<line x1="728.7" y1="206.23" x2="732.7" y2="206.23" stroke="#1a1a1a" stroke-width="1.2" />
<line x1="728.7" y1="192.94" x2="732.7" y2="192.94" stroke="#1a1a1a" stroke-width="1.2" />
<line x1="728.7" y1="182.63" x2="732.7" y2="182.63" stroke="#1a1a1a" stroke-width="1.2" />
<line x1="728.7" y1="174.2" x2="732.7" y2="174.2" stroke="#1a1a1a" stroke-width="1.2" />
<line x1="728.7" y1="167.08" x2="732.7" y2="167.08" stroke="#1a1a1a" stroke-width="1.2" />
<line x1="728.7" y1="160.91" x2="732.7" y2="160.91" stroke="#1a1a1a" stroke-width="1.2" />
<line x1="728.7" y1="155.47" x2="732.7" y2="155.47" stroke="#1a1a1a" stroke-width="1.2" />
<line x1="728.7" y1="150.6" x2="736.2" y2="150.6" stroke="#1a1a1a" stroke-width="1.2" />
<line x1="728.7" y1="118.57" x2="732.7" y2="118.57" stroke="#1a1a1a" stroke-width="1.2" />
<line x1="728.7" y1="99.83" x2="732.7" y2="99.83" stroke="#1a1a1a" stroke-width="1.2" />
<line x1="728.7" y1="86.54" x2="732.7" y2="86.54" stroke="#1a1a1a" stroke-width="1.2" />
<line x1="728.7" y1="76.23" x2="732.7" y2="76.23" stroke="#1a1a1a" stroke-width="1.2" />
<line x1="728.7" y1="67.8" x2="732.7" y2="67.8" stroke="#1a1a1a" stroke-width="1.2" />
<line x1="728.7" y1="60.68" x2="732.7" y2="60.68" stroke="#1a1a1a" stroke-width="1.2" />
<line x1="728.7" y1="54.51" x2="732.7" y2="54.51" stroke="#1a1a1a" stroke-width="1.2" />
<line x1="728.7" y1="49.07" x2="732.7" y2="49.07" stroke="#1a1a1a" stroke-width="1.2" />
<line x1="728.7" y1="44.2" x2="736.2" y2="44.2" stroke="#1a1a1a" stroke-width="1.5" />
<line x1="742.98" y1="363.4" x2="742.98" y2="359.4" stroke="#1a1a1a" stroke-width="1.2" />
<line x1="755" y1="363.4" x2="755" y2="359.4" stroke="#1a1a1a" stroke-width="1.2" />
<line x1="765.4" y1="363.4" x2="765.4" y2="359.4" stroke="#1a1a1a" stroke-width="1.2" />
<line x1="774.59" y1="363.4" x2="774.59" y2="359.4" stroke="#1a1a1a" stroke-width="1.2" />
<line x1="782.8" y1="363.4" x2="782.8" y2="355.9" stroke="#1a1a1a" stroke-width="1.2" />
<line x1="836.83" y1="363.4" x2="836.83" y2="359.4" stroke="#1a1a1a" stroke-width="1.2" />
<line x1="868.44" y1="363.4" x2="868.44" y2="359.4" stroke="#1a1a1a" stroke-width="1.2" />
<line x1="890.87" y1="363.4" x2="890.87" y2="359.4" stroke="#1a1a1a" stroke-width="1.2" />
<line x1="908.27" y1="363.4" x2="908.27" y2="359.4" stroke="#1a1a1a" stroke-width="1.2" />
<line x1="922.48" y1="363.4" x2="922.48" y2="359.4" stroke="#1a1a1a" stroke-width="1.2" />
<line x1="934.5" y1="363.4" x2="934.5" y2="359.4" stroke="#1a1a1a" stroke-width="1.2" />
<line x1="944.9" y1="363.4" x2="944.9" y2="359.4" stroke="#1a1a1a" stroke-width="1.2" />
<line x1="954.09" y1="363.4" x2="954.09" y2="359.4" stroke="#1a1a1a" stroke-width="1.2" />
<line x1="962.3" y1="363.4" x2="962.3" y2="355.9" stroke="#1a1a1a" stroke-width="1.2" />
<line x1="1016.33" y1="363.4" x2="1016.33" y2="359.4" stroke="#1a1a1a" stroke-width="1.2" />
<line x1="1047.94" y1="363.4" x2="1047.94" y2="359.4" stroke="#1a1a1a" stroke-width="1.2" />
<text x="725" y="368.5" font-size="25" text-anchor="end" font-family="'Liberation Sans', Arial, Helvetica, sans-serif" stroke="#000" stroke-width="0.3" >1</text>
<text x="725" y="266.2" font-size="25" text-anchor="end" font-family="'Liberation Sans', Arial, Helvetica, sans-serif" stroke="#000" stroke-width="0.3" >10</text>
<text x="725" y="159.6" font-size="25" text-anchor="end" font-family="'Liberation Sans', Arial, Helvetica, sans-serif" stroke="#000" stroke-width="0.3" >100</text>
<text x="783" y="389" font-size="24.5" text-anchor="middle" font-family="'Liberation Sans', Arial, Helvetica, sans-serif" stroke="#000" stroke-width="0.3" >1</text>
<text x="962.4" y="389" font-size="24.5" text-anchor="middle" font-family="'Liberation Sans', Arial, Helvetica, sans-serif" stroke="#000" stroke-width="0.3" >10</text>
<text x="883.5" y="413" font-size="27.2" text-anchor="middle" font-family="'Liberation Sans', Arial, Helvetica, sans-serif" stroke="#000" stroke-width="0.3" >Spatial Frequency (c/d)</text>
<text x="675.5" y="212" font-size="27.1" text-anchor="middle" font-family="'Liberation Sans', Arial, Helvetica, sans-serif" transform="rotate(-90 675.5 212)" stroke="#000" stroke-width="0.3" >Sensitivity (1/contrast)</text>
<text x="647" y="456.5" font-size="58.5" text-anchor="start" font-family="'DejaVu Sans', 'Liberation Sans', sans-serif" stroke="#000" stroke-width="0.3" >c</text>
<line x1="713.3" y1="432.7" x2="713.3" y2="751.6" stroke="#1a1a1a" stroke-width="1.5" />
<line x1="712.6" y1="750.9" x2="1031" y2="750.9" stroke="#1a1a1a" stroke-width="1.5" />
<line x1="713.3" y1="664.11" x2="717" y2="664.11" stroke="#1a1a1a" stroke-width="1" />
<line x1="799.94" y1="750.9" x2="799.94" y2="747.2" stroke="#1a1a1a" stroke-width="1" />
<line x1="713.3" y1="577.32" x2="717" y2="577.32" stroke="#1a1a1a" stroke-width="1" />
<line x1="886.58" y1="750.9" x2="886.58" y2="747.2" stroke="#1a1a1a" stroke-width="1" />
<line x1="713.3" y1="490.53" x2="717" y2="490.53" stroke="#1a1a1a" stroke-width="1" />
<line x1="973.22" y1="750.9" x2="973.22" y2="747.2" stroke="#1a1a1a" stroke-width="1" />
<line x1="713.3" y1="750.9" x2="1030.98" y2="432.67" stroke="#666262" stroke-width="4.2" />
<text x="705.5" y="760.7" font-size="27.5" text-anchor="end" font-family="'Liberation Sans', Arial, Helvetica, sans-serif" stroke="#000" stroke-width="0.3" >0</text>
<text x="711.3" y="775.9" font-size="27.5" text-anchor="middle" font-family="'Liberation Sans', Arial, Helvetica, sans-serif" stroke="#000" stroke-width="0.3" >0</text>
<text x="705.5" y="673.91" font-size="27.5" text-anchor="end" font-family="'Liberation Sans', Arial, Helvetica, sans-serif" stroke="#000" stroke-width="0.3" >30</text>
<text x="797.94" y="775.9" font-size="27.5" text-anchor="middle" font-family="'Liberation Sans', Arial, Helvetica, sans-serif" stroke="#000" stroke-width="0.3" >30</text>
<text x="705.5" y="587.12" font-size="27.5" text-anchor="end" font-family="'Liberation Sans', Arial, Helvetica, sans-serif" stroke="#000" stroke-width="0.3" >60</text>
<text x="884.58" y="775.9" font-size="27.5" text-anchor="middle" font-family="'Liberation Sans', Arial, Helvetica, sans-serif" stroke="#000" stroke-width="0.3" >60</text>
<text x="705.5" y="500.33" font-size="27.5" text-anchor="end" font-family="'Liberation Sans', Arial, Helvetica, sans-serif" stroke="#000" stroke-width="0.3" >90</text>
<text x="971.22" y="775.9" font-size="27.5" text-anchor="middle" font-family="'Liberation Sans', Arial, Helvetica, sans-serif" stroke="#000" stroke-width="0.3" >90</text>
<text x="0" y="0" font-size="27.6" text-anchor="middle" font-family="'Liberation Sans', Arial, Helvetica, sans-serif" transform="translate(664 614.8) rotate(-90) scale(1 1.06)" stroke="#000" stroke-width="0.3" >-logML of V1 model</text>
<text x="1025.5" y="725.2" font-size="53.5" text-anchor="end" font-family="'Liberation Sans', Arial, Helvetica, sans-serif" stroke="#000" stroke-width="0.3" >CSF</text>
<polygon points="796.3,639.31 786.98,655.44 805.62,655.44" fill="none" stroke="#000" stroke-width="3.1" stroke-linejoin="miter"/>
<polygon points="882.6,576.21 873.28,592.34 891.92,592.34" fill="none" stroke="#000" stroke-width="3.1" stroke-linejoin="miter"/>
<polygon points="889,577.71 879.68,593.84 898.32,593.84" fill="none" stroke="#000" stroke-width="3.1" stroke-linejoin="miter"/>
<polygon points="894.6,567.21 885.28,583.34 903.92,583.34" fill="none" stroke="#000" stroke-width="3.1" stroke-linejoin="miter"/>
<polygon points="896.1,552.21 886.78,568.34 905.42,568.34" fill="none" stroke="#000" stroke-width="3.1" stroke-linejoin="miter"/>
<polygon points="932.1,515.31 922.78,531.44 941.42,531.44" fill="none" stroke="#000" stroke-width="3.1" stroke-linejoin="miter"/>
<polygon points="950.9,511.61 941.58,527.74 960.22,527.74" fill="none" stroke="#000" stroke-width="3.1" stroke-linejoin="miter"/>
<polygon points="963.8,489.11 954.48,505.24 973.12,505.24" fill="none" stroke="#000" stroke-width="3.1" stroke-linejoin="miter"/>
<polygon points="977,484.11 967.68,500.24 986.32,500.24" fill="none" stroke="#000" stroke-width="3.1" stroke-linejoin="miter"/>
<rect x="771.8" y="678.6" width="12.8" height="12.8" fill="none" stroke="#139013" stroke-width="3.15"/>
<rect x="784.1" y="650.5" width="12.8" height="12.8" fill="none" stroke="#139013" stroke-width="3.15"/>
<rect x="875.5" y="624" width="12.8" height="12.8" fill="none" stroke="#139013" stroke-width="3.15"/>
<rect x="906.4" y="547.1" width="12.8" height="12.8" fill="none" stroke="#139013" stroke-width="3.15"/>
<rect x="915.2" y="535.4" width="12.8" height="12.8" fill="none" stroke="#139013" stroke-width="3.15"/>
<rect x="944.5" y="505.2" width="12.8" height="12.8" fill="none" stroke="#139013" stroke-width="3.15"/>
<rect x="960.1" y="487.3" width="12.8" height="12.8" fill="none" stroke="#139013" stroke-width="3.15"/>
<rect x="968.6" y="478.6" width="12.8" height="12.8" fill="none" stroke="#139013" stroke-width="3.15"/>
<rect x="976.8" y="470.8" width="12.8" height="12.8" fill="none" stroke="#139013" stroke-width="3.15"/>
<circle cx="765.7" cy="681.9" r="8.1" fill="none" stroke="#cc1108" stroke-width="3.15"/>
<circle cx="801.9" cy="645.8" r="8.1" fill="none" stroke="#cc1108" stroke-width="3.15"/>
<circle cx="827.1" cy="622.3" r="8.1" fill="none" stroke="#cc1108" stroke-width="3.15"/>
<circle cx="869.4" cy="577.5" r="8.1" fill="none" stroke="#cc1108" stroke-width="3.15"/>
<circle cx="881.1" cy="565.8" r="8.1" fill="none" stroke="#cc1108" stroke-width="3.15"/>
<circle cx="921.3" cy="527.6" r="8.1" fill="none" stroke="#cc1108" stroke-width="3.15"/>
<circle cx="941.3" cy="523.5" r="8.1" fill="none" stroke="#cc1108" stroke-width="3.15"/>
<circle cx="957.3" cy="497.8" r="8.1" fill="none" stroke="#cc1108" stroke-width="3.15"/>
<circle cx="978.9" cy="490.9" r="8.1" fill="none" stroke="#cc1108" stroke-width="3.15"/>
<circle cx="987.2" cy="464.8" r="8.1" fill="none" stroke="#cc1108" stroke-width="3.15"/>
<circle cx="998.6" cy="456.1" r="8.1" fill="none" stroke="#cc1108" stroke-width="3.15"/>
<rect x="736.3" y="434.6" width="112.4" height="114.7" fill="#fff" stroke="#222" stroke-width="1.1"/>
<polygon points="758.7,448.72 749.02,465.48 768.38,465.48" fill="none" stroke="#000" stroke-width="3.2" stroke-linejoin="miter"/>
<rect x="752.05" y="487.45" width="13.3" height="13.3" fill="none" stroke="#139013" stroke-width="3.1"/>
<circle cx="758.8" cy="527.5" r="8.1" fill="none" stroke="#cc1108" stroke-width="3.2"/>
<text x="781.8" y="466.4" font-size="27.2" text-anchor="start" font-family="'Liberation Sans', Arial, Helvetica, sans-serif" stroke="#000" stroke-width="0.3" >NTE</text>
<text x="781.8" y="501.9" font-size="27.2" text-anchor="start" font-family="'Liberation Sans', Arial, Helvetica, sans-serif" stroke="#000" stroke-width="0.3" >NAE</text>
<text x="780.2" y="537.4" font-size="27.2" text-anchor="start" font-family="'Liberation Sans', Arial, Helvetica, sans-serif" stroke="#000" stroke-width="0.3" >AE</text>
<text x="647.5" y="827" font-size="58.5" text-anchor="start" font-family="'DejaVu Sans', 'Liberation Sans', sans-serif" stroke="#000" stroke-width="0.3" >d</text>
<line x1="716.2" y1="805.2" x2="716.2" y2="1121.4" stroke="#1a1a1a" stroke-width="1.5" />
<line x1="715.5" y1="1120.7" x2="1031.3" y2="1120.7" stroke="#1a1a1a" stroke-width="1.5" />
<line x1="716.2" y1="1098.16" x2="719.9" y2="1098.16" stroke="#1a1a1a" stroke-width="1" />
<line x1="738.71" y1="1120.7" x2="738.71" y2="1117" stroke="#1a1a1a" stroke-width="1" />
<line x1="716.2" y1="1030.54" x2="719.9" y2="1030.54" stroke="#1a1a1a" stroke-width="1" />
<line x1="806.23" y1="1120.7" x2="806.23" y2="1117" stroke="#1a1a1a" stroke-width="1" />
<line x1="716.2" y1="962.92" x2="719.9" y2="962.92" stroke="#1a1a1a" stroke-width="1" />
<line x1="873.75" y1="1120.7" x2="873.75" y2="1117" stroke="#1a1a1a" stroke-width="1" />
<line x1="716.2" y1="895.3" x2="719.9" y2="895.3" stroke="#1a1a1a" stroke-width="1" />
<line x1="941.27" y1="1120.7" x2="941.27" y2="1117" stroke="#1a1a1a" stroke-width="1" />
<line x1="716.2" y1="827.68" x2="719.9" y2="827.68" stroke="#1a1a1a" stroke-width="1" />
<line x1="1008.79" y1="1120.7" x2="1008.79" y2="1117" stroke="#1a1a1a" stroke-width="1" />
<line x1="716.2" y1="1120.7" x2="1031.3" y2="805.14" stroke="#666262" stroke-width="4.2" />
<text x="0" y="0" font-size="27.5" text-anchor="end" font-family="'Liberation Sans', Arial, Helvetica, sans-serif" transform="translate(708.8 1105.96) scale(1 1.04)" stroke="#000" stroke-width="0.3" >90</text>
<text x="0" y="0" font-size="27.5" text-anchor="end" font-family="'Liberation Sans', Arial, Helvetica, sans-serif" transform="translate(708.8 1038.34) scale(1 1.04)" stroke="#000" stroke-width="0.3" >120</text>
<text x="0" y="0" font-size="27.5" text-anchor="end" font-family="'Liberation Sans', Arial, Helvetica, sans-serif" transform="translate(708.8 970.72) scale(1 1.04)" stroke="#000" stroke-width="0.3" >150</text>
<text x="0" y="0" font-size="27.5" text-anchor="end" font-family="'Liberation Sans', Arial, Helvetica, sans-serif" transform="translate(708.8 903.1) scale(1 1.04)" stroke="#000" stroke-width="0.3" >180</text>
<text x="737.71" y="1145.8" font-size="27.5" text-anchor="middle" font-family="'Liberation Sans', Arial, Helvetica, sans-serif" stroke="#000" stroke-width="0.3" >90</text>
<text x="805.23" y="1145.8" font-size="27.5" text-anchor="middle" font-family="'Liberation Sans', Arial, Helvetica, sans-serif" stroke="#000" stroke-width="0.3" >120</text>
<text x="872.75" y="1145.8" font-size="27.5" text-anchor="middle" font-family="'Liberation Sans', Arial, Helvetica, sans-serif" stroke="#000" stroke-width="0.3" >150</text>
<text x="940.27" y="1145.8" font-size="27.5" text-anchor="middle" font-family="'Liberation Sans', Arial, Helvetica, sans-serif" stroke="#000" stroke-width="0.3" >180</text>
<text x="1007.79" y="1145.8" font-size="27.5" text-anchor="middle" font-family="'Liberation Sans', Arial, Helvetica, sans-serif" stroke="#000" stroke-width="0.3" >210</text>
<text x="0" y="0" font-size="27.6" text-anchor="middle" font-family="'Liberation Sans', Arial, Helvetica, sans-serif" transform="translate(659.5 968.5) rotate(-90) scale(1 1.06)" stroke="#000" stroke-width="0.3" >-logML of V1 model</text>
<text x="877" y="1173" font-size="27.2" text-anchor="middle" font-family="'Liberation Sans', Arial, Helvetica, sans-serif" stroke="#000" stroke-width="0.3" >-logML of ad−hoc model</text>
<text x="1008.5" y="1096.2" font-size="55" text-anchor="end" font-family="'Liberation Sans', Arial, Helvetica, sans-serif" stroke="#000" stroke-width="0.3" >Tilt</text>
<polygon points="745.9,1073.71 736.58,1089.84 755.22,1089.84" fill="none" stroke="#000" stroke-width="3.1" stroke-linejoin="miter"/>
<polygon points="821.5,1001.71 812.18,1017.84 830.82,1017.84" fill="none" stroke="#000" stroke-width="3.1" stroke-linejoin="miter"/>
<polygon points="837,989.71 827.68,1005.84 846.32,1005.84" fill="none" stroke="#000" stroke-width="3.1" stroke-linejoin="miter"/>
<polygon points="861,958.71 851.68,974.84 870.32,974.84" fill="none" stroke="#000" stroke-width="3.1" stroke-linejoin="miter"/>
<polygon points="865,956.71 855.68,972.84 874.32,972.84" fill="none" stroke="#000" stroke-width="3.1" stroke-linejoin="miter"/>
<polygon points="888.6,927.71 879.28,943.84 897.92,943.84" fill="none" stroke="#000" stroke-width="3.1" stroke-linejoin="miter"/>
<polygon points="920.4,906.51 911.08,922.64 929.72,922.64" fill="none" stroke="#000" stroke-width="3.1" stroke-linejoin="miter"/>
<polygon points="948.5,874.41 939.18,890.54 957.82,890.54" fill="none" stroke="#000" stroke-width="3.1" stroke-linejoin="miter"/>
<polygon points="963.6,849.91 954.28,866.04 972.92,866.04" fill="none" stroke="#000" stroke-width="3.1" stroke-linejoin="miter"/>
<polygon points="997.5,830.11 988.18,846.24 1006.82,846.24" fill="none" stroke="#000" stroke-width="3.1" stroke-linejoin="miter"/>
<rect x="905.3" y="902.2" width="12.8" height="12.8" fill="none" stroke="#139013" stroke-width="3.15"/>
<rect x="917" y="902.2" width="12.8" height="12.8" fill="none" stroke="#139013" stroke-width="3.15"/>
<rect x="946.7" y="866" width="12.8" height="12.8" fill="none" stroke="#139013" stroke-width="3.15"/>
<rect x="963.4" y="855.5" width="12.8" height="12.8" fill="none" stroke="#139013" stroke-width="3.15"/>
<rect x="964.2" y="832.7" width="12.8" height="12.8" fill="none" stroke="#139013" stroke-width="3.15"/>
<rect x="977.7" y="847.3" width="12.8" height="12.8" fill="none" stroke="#139013" stroke-width="3.15"/>
<rect x="988.8" y="819.9" width="12.8" height="12.8" fill="none" stroke="#139013" stroke-width="3.15"/>
<rect x="1001" y="821" width="12.8" height="12.8" fill="none" stroke="#139013" stroke-width="3.15"/>
<rect x="971.6" y="829.6" width="12.8" height="12.8" fill="none" stroke="#139013" stroke-width="3.15"/>
<circle cx="722.3" cy="1105.9" r="8.1" fill="none" stroke="#cc1108" stroke-width="3.15"/>
<circle cx="833.8" cy="989.1" r="8.1" fill="none" stroke="#cc1108" stroke-width="3.15"/>
<circle cx="854.1" cy="970.6" r="8.1" fill="none" stroke="#cc1108" stroke-width="3.15"/>
<circle cx="858" cy="969.5" r="8.1" fill="none" stroke="#cc1108" stroke-width="3.15"/>
<circle cx="862.1" cy="968" r="8.1" fill="none" stroke="#cc1108" stroke-width="3.15"/>
<circle cx="939.1" cy="889.9" r="8.1" fill="none" stroke="#cc1108" stroke-width="3.15"/>
<circle cx="981.7" cy="833.9" r="8.1" fill="none" stroke="#cc1108" stroke-width="3.15"/>
<circle cx="984.1" cy="845" r="8.1" fill="none" stroke="#cc1108" stroke-width="3.15"/>
<circle cx="1009.2" cy="822.8" r="8.1" fill="none" stroke="#cc1108" stroke-width="3.15"/>
<circle cx="1010.3" cy="811.1" r="8.1" fill="none" stroke="#cc1108" stroke-width="3.15"/>
<text x="1097.5" y="49.4" font-size="58.5" text-anchor="start" font-family="'DejaVu Sans', 'Liberation Sans', sans-serif" stroke="#000" stroke-width="0.3" >e</text>
<line x1="1157.3" y1="49" x2="1157.3" y2="368.35" stroke="#1a1a1a" stroke-width="1.5" />
<line x1="1156.55" y1="367.6" x2="1475.2" y2="367.6" stroke="#1a1a1a" stroke-width="1.5" />
<line x1="1157.3" y1="367.6" x2="1160.8" y2="367.6" stroke="#1a1a1a" stroke-width="1" />
<line x1="1157.3" y1="319.65" x2="1159.3" y2="319.65" stroke="#1a1a1a" stroke-width="1" />
<line x1="1157.3" y1="291.59" x2="1159.3" y2="291.59" stroke="#1a1a1a" stroke-width="1" />
<line x1="1157.3" y1="271.69" x2="1159.3" y2="271.69" stroke="#1a1a1a" stroke-width="1" />
<line x1="1157.3" y1="256.25" x2="1159.3" y2="256.25" stroke="#1a1a1a" stroke-width="1" />
<line x1="1157.3" y1="243.64" x2="1159.3" y2="243.64" stroke="#1a1a1a" stroke-width="1" />
<line x1="1157.3" y1="232.98" x2="1159.3" y2="232.98" stroke="#1a1a1a" stroke-width="1" />
<line x1="1157.3" y1="223.74" x2="1159.3" y2="223.74" stroke="#1a1a1a" stroke-width="1" />
<line x1="1157.3" y1="215.59" x2="1159.3" y2="215.59" stroke="#1a1a1a" stroke-width="1" />
<line x1="1157.3" y1="208.3" x2="1160.8" y2="208.3" stroke="#1a1a1a" stroke-width="1" />
<line x1="1157.3" y1="160.35" x2="1159.3" y2="160.35" stroke="#1a1a1a" stroke-width="1" />
<line x1="1157.3" y1="132.29" x2="1159.3" y2="132.29" stroke="#1a1a1a" stroke-width="1" />
<line x1="1157.3" y1="112.39" x2="1159.3" y2="112.39" stroke="#1a1a1a" stroke-width="1" />
<line x1="1157.3" y1="96.95" x2="1159.3" y2="96.95" stroke="#1a1a1a" stroke-width="1" />
<line x1="1157.3" y1="84.34" x2="1159.3" y2="84.34" stroke="#1a1a1a" stroke-width="1" />
<line x1="1157.3" y1="73.68" x2="1159.3" y2="73.68" stroke="#1a1a1a" stroke-width="1" />
<line x1="1157.3" y1="64.44" x2="1159.3" y2="64.44" stroke="#1a1a1a" stroke-width="1" />
<line x1="1157.3" y1="56.29" x2="1159.3" y2="56.29" stroke="#1a1a1a" stroke-width="1" />
<line x1="1157.3" y1="49" x2="1160.8" y2="49" stroke="#1a1a1a" stroke-width="1" />
<line x1="1157.3" y1="367.6" x2="1157.3" y2="364.1" stroke="#1a1a1a" stroke-width="1" />
<line x1="1198.9" y1="367.6" x2="1198.9" y2="365.6" stroke="#1a1a1a" stroke-width="1" />
<line x1="1223.24" y1="367.6" x2="1223.24" y2="365.6" stroke="#1a1a1a" stroke-width="1" />
<line x1="1240.5" y1="367.6" x2="1240.5" y2="365.6" stroke="#1a1a1a" stroke-width="1" />
<line x1="1253.9" y1="367.6" x2="1253.9" y2="365.6" stroke="#1a1a1a" stroke-width="1" />
<line x1="1264.84" y1="367.6" x2="1264.84" y2="365.6" stroke="#1a1a1a" stroke-width="1" />
<line x1="1274.09" y1="367.6" x2="1274.09" y2="365.6" stroke="#1a1a1a" stroke-width="1" />
<line x1="1282.11" y1="367.6" x2="1282.11" y2="365.6" stroke="#1a1a1a" stroke-width="1" />
<line x1="1289.18" y1="367.6" x2="1289.18" y2="365.6" stroke="#1a1a1a" stroke-width="1" />
<line x1="1295.5" y1="367.6" x2="1295.5" y2="364.1" stroke="#1a1a1a" stroke-width="1" />
<line x1="1337.1" y1="367.6" x2="1337.1" y2="365.6" stroke="#1a1a1a" stroke-width="1" />
<line x1="1361.44" y1="367.6" x2="1361.44" y2="365.6" stroke="#1a1a1a" stroke-width="1" />
<line x1="1378.7" y1="367.6" x2="1378.7" y2="365.6" stroke="#1a1a1a" stroke-width="1" />
<line x1="1392.1" y1="367.6" x2="1392.1" y2="365.6" stroke="#1a1a1a" stroke-width="1" />
<line x1="1403.04" y1="367.6" x2="1403.04" y2="365.6" stroke="#1a1a1a" stroke-width="1" />
<line x1="1412.29" y1="367.6" x2="1412.29" y2="365.6" stroke="#1a1a1a" stroke-width="1" />
<line x1="1420.31" y1="367.6" x2="1420.31" y2="365.6" stroke="#1a1a1a" stroke-width="1" />
<line x1="1427.38" y1="367.6" x2="1427.38" y2="365.6" stroke="#1a1a1a" stroke-width="1" />
<line x1="1433.7" y1="367.6" x2="1433.7" y2="364.1" stroke="#1a1a1a" stroke-width="1" />
<line x1="1475.3" y1="367.6" x2="1475.3" y2="365.6" stroke="#1a1a1a" stroke-width="1" />
<text x="0" y="0" font-size="29.5" text-anchor="end" font-family="'Liberation Sans', Arial, Helvetica, sans-serif" transform="translate(1144.8 220.9) scale(1 1.05)" stroke="#000" stroke-width="0.3" >0.1</text>
<text x="0" y="0" font-size="29.5" text-anchor="end" font-family="'Liberation Sans', Arial, Helvetica, sans-serif" transform="translate(1144.8 372) scale(1 1.05)" stroke="#000" stroke-width="0.3" >0.01</text>
<text x="1093.3" y="220.6" font-size="31.5" text-anchor="middle" font-family="'Liberation Sans', Arial, Helvetica, sans-serif" transform="rotate(-90 1093.3 220.6)" stroke="#000" stroke-width="0.3" >linh</text>
<polygon points="1386.1,234.82 1375.44,253.28 1396.76,253.28" fill="none" stroke="#000" stroke-width="3.4" stroke-linejoin="miter"/>
<polygon points="1364.5,288.52 1353.84,306.98 1375.16,306.98" fill="none" stroke="#000" stroke-width="3.4" stroke-linejoin="miter"/>
<polygon points="1404.2,280.32 1393.54,298.78 1414.86,298.78" fill="none" stroke="#000" stroke-width="3.4" stroke-linejoin="miter"/>
<polygon points="1414.7,266.32 1404.04,284.78 1425.36,284.78" fill="none" stroke="#000" stroke-width="3.4" stroke-linejoin="miter"/>
<polygon points="1436.9,246.52 1426.24,264.98 1447.56,264.98" fill="none" stroke="#000" stroke-width="3.4" stroke-linejoin="miter"/>
<polygon points="1442.8,292.02 1432.14,310.48 1453.46,310.48" fill="none" stroke="#000" stroke-width="3.4" stroke-linejoin="miter"/>
<polygon points="1429.9,307.22 1419.24,325.68 1440.56,325.68" fill="none" stroke="#000" stroke-width="3.4" stroke-linejoin="miter"/>
<polygon points="1396,290.92 1385.34,309.38 1406.66,309.38" fill="none" stroke="#000" stroke-width="3.4" stroke-linejoin="miter"/>
<rect x="1307.8" y="171.1" width="15.4" height="15.4" fill="none" stroke="#139013" stroke-width="3.15"/>
<circle cx="1315.5" cy="178.8" r="3.2" fill="#139013"/>
<rect x="1339.9" y="212.4" width="15.4" height="15.4" fill="none" stroke="#139013" stroke-width="3.15"/>
<circle cx="1347.6" cy="220.1" r="3.2" fill="#139013"/>
<rect x="1350.4" y="248.3" width="15.4" height="15.4" fill="none" stroke="#139013" stroke-width="3.15"/>
<circle cx="1358.1" cy="256" r="3.2" fill="#139013"/>
<rect x="1414" y="212.7" width="15.4" height="15.4" fill="none" stroke="#139013" stroke-width="3.15"/>
<rect x="1400.6" y="223.8" width="15.4" height="15.4" fill="none" stroke="#139013" stroke-width="3.15"/>
<rect x="1425.7" y="230.3" width="15.4" height="15.4" fill="none" stroke="#139013" stroke-width="3.15"/>
<rect x="1377.8" y="243.7" width="15.4" height="15.4" fill="none" stroke="#139013" stroke-width="3.15"/>
<rect x="1408.8" y="227.3" width="15.4" height="15.4" fill="none" stroke="#139013" stroke-width="3.15"/>
<rect x="1432.7" y="258.9" width="15.4" height="15.4" fill="none" stroke="#139013" stroke-width="3.15"/>
<rect x="1432.7" y="271.7" width="15.4" height="15.4" fill="none" stroke="#139013" stroke-width="3.15"/>
<rect x="1411.7" y="285.7" width="15.4" height="15.4" fill="none" stroke="#139013" stroke-width="3.15"/>
<rect x="1421" y="288" width="15.4" height="15.4" fill="none" stroke="#139013" stroke-width="3.15"/>
<rect x="1403.5" y="295.1" width="15.4" height="15.4" fill="none" stroke="#139013" stroke-width="3.15"/>
<rect x="1416.4" y="295.1" width="15.4" height="15.4" fill="none" stroke="#139013" stroke-width="3.15"/>
<circle cx="1343.7" cy="60.2" r="9.4" fill="none" stroke="#cc1108" stroke-width="3.15"/>
<circle cx="1342" cy="128.9" r="9.4" fill="none" stroke="#cc1108" stroke-width="3.15"/>
<circle cx="1342" cy="128.9" r="3.2" fill="#cc1108"/>
<circle cx="1281.7" cy="179.3" r="9.4" fill="none" stroke="#cc1108" stroke-width="3.15"/>
<circle cx="1281.7" cy="179.3" r="3.2" fill="#cc1108"/>
<circle cx="1243.8" cy="217.9" r="9.4" fill="none" stroke="#cc1108" stroke-width="3.15"/>
<circle cx="1243.8" cy="217.9" r="3.2" fill="#cc1108"/>
<circle cx="1369.3" cy="184.9" r="9.4" fill="none" stroke="#cc1108" stroke-width="3.15"/>
<circle cx="1368" cy="264" r="9.4" fill="none" stroke="#cc1108" stroke-width="3.15"/>
<circle cx="1368" cy="264" r="3.2" fill="#cc1108"/>
<circle cx="1363.9" cy="281.5" r="9.4" fill="none" stroke="#cc1108" stroke-width="3.15"/>
<circle cx="1363.9" cy="281.5" r="3.2" fill="#cc1108"/>
<circle cx="1391.4" cy="279.4" r="9.4" fill="none" stroke="#cc1108" stroke-width="3.15"/>
<circle cx="1394.9" cy="302.8" r="9.4" fill="none" stroke="#cc1108" stroke-width="3.15"/>
<circle cx="1394.9" cy="302.8" r="3.2" fill="#cc1108"/>
<circle cx="1395.5" cy="312.1" r="9.4" fill="none" stroke="#cc1108" stroke-width="3.15"/>
<circle cx="1395.5" cy="312.1" r="3.2" fill="#cc1108"/>
<circle cx="1453.3" cy="280.3" r="9.4" fill="none" stroke="#cc1108" stroke-width="3.15"/>
<circle cx="1443.3" cy="306.5" r="9.4" fill="none" stroke="#cc1108" stroke-width="3.15"/>
<circle cx="1422.9" cy="325.5" r="9.4" fill="none" stroke="#cc1108" stroke-width="3.15"/>
<circle cx="1393.7" cy="243.8" r="9.4" fill="none" stroke="#cc1108" stroke-width="3.15"/>
<circle cx="1401.9" cy="240.3" r="9.4" fill="none" stroke="#cc1108" stroke-width="3.15"/>
<circle cx="1410.1" cy="242" r="9.4" fill="none" stroke="#cc1108" stroke-width="3.15"/>
<circle cx="1426.4" cy="249" r="9.4" fill="none" stroke="#cc1108" stroke-width="3.15"/>
<circle cx="1397.2" cy="270.1" r="9.4" fill="none" stroke="#cc1108" stroke-width="3.15"/>
<circle cx="1405.4" cy="260.7" r="9.4" fill="none" stroke="#cc1108" stroke-width="3.15"/>
<circle cx="1414.7" cy="265.4" r="9.4" fill="none" stroke="#cc1108" stroke-width="3.15"/>
<circle cx="1401.9" cy="257.2" r="9.4" fill="none" stroke="#cc1108" stroke-width="3.15"/>
<text x="1093.8" y="467" font-size="58.5" text-anchor="start" font-family="'DejaVu Sans', 'Liberation Sans', sans-serif" stroke="#000" stroke-width="0.3" >f</text>
<line x1="1157.3" y1="436.3" x2="1157.3" y2="755.75" stroke="#1a1a1a" stroke-width="1.5" />
<line x1="1156.55" y1="755" x2="1475.2" y2="755" stroke="#1a1a1a" stroke-width="1.5" />
<line x1="1157.3" y1="712.49" x2="1160.8" y2="712.49" stroke="#1a1a1a" stroke-width="1" />
<line x1="1157.3" y1="669.98" x2="1160.8" y2="669.98" stroke="#1a1a1a" stroke-width="1" />
<line x1="1157.3" y1="627.47" x2="1160.8" y2="627.47" stroke="#1a1a1a" stroke-width="1" />
<line x1="1157.3" y1="584.96" x2="1160.8" y2="584.96" stroke="#1a1a1a" stroke-width="1" />
<line x1="1157.3" y1="542.45" x2="1160.8" y2="542.45" stroke="#1a1a1a" stroke-width="1" />
<line x1="1157.3" y1="499.94" x2="1160.8" y2="499.94" stroke="#1a1a1a" stroke-width="1" />
<line x1="1157.3" y1="457.43" x2="1160.8" y2="457.43" stroke="#1a1a1a" stroke-width="1" />
<line x1="1157.3" y1="755" x2="1157.3" y2="751.5" stroke="#1a1a1a" stroke-width="1" />
<line x1="1198.9" y1="755" x2="1198.9" y2="753" stroke="#1a1a1a" stroke-width="1" />
<line x1="1223.24" y1="755" x2="1223.24" y2="753" stroke="#1a1a1a" stroke-width="1" />
<line x1="1240.5" y1="755" x2="1240.5" y2="753" stroke="#1a1a1a" stroke-width="1" />
<line x1="1253.9" y1="755" x2="1253.9" y2="753" stroke="#1a1a1a" stroke-width="1" />
<line x1="1264.84" y1="755" x2="1264.84" y2="753" stroke="#1a1a1a" stroke-width="1" />
<line x1="1274.09" y1="755" x2="1274.09" y2="753" stroke="#1a1a1a" stroke-width="1" />
<line x1="1282.11" y1="755" x2="1282.11" y2="753" stroke="#1a1a1a" stroke-width="1" />
<line x1="1289.18" y1="755" x2="1289.18" y2="753" stroke="#1a1a1a" stroke-width="1" />
<line x1="1295.5" y1="755" x2="1295.5" y2="751.5" stroke="#1a1a1a" stroke-width="1" />
<line x1="1337.1" y1="755" x2="1337.1" y2="753" stroke="#1a1a1a" stroke-width="1" />
<line x1="1361.44" y1="755" x2="1361.44" y2="753" stroke="#1a1a1a" stroke-width="1" />
<line x1="1378.7" y1="755" x2="1378.7" y2="753" stroke="#1a1a1a" stroke-width="1" />
<line x1="1392.1" y1="755" x2="1392.1" y2="753" stroke="#1a1a1a" stroke-width="1" />
<line x1="1403.04" y1="755" x2="1403.04" y2="753" stroke="#1a1a1a" stroke-width="1" />
<line x1="1412.29" y1="755" x2="1412.29" y2="753" stroke="#1a1a1a" stroke-width="1" />
<line x1="1420.31" y1="755" x2="1420.31" y2="753" stroke="#1a1a1a" stroke-width="1" />
<line x1="1427.38" y1="755" x2="1427.38" y2="753" stroke="#1a1a1a" stroke-width="1" />
<line x1="1433.7" y1="755" x2="1433.7" y2="751.5" stroke="#1a1a1a" stroke-width="1" />
<line x1="1475.3" y1="755" x2="1475.3" y2="753" stroke="#1a1a1a" stroke-width="1" />
<text x="1144" y="571.7" font-size="30.5" text-anchor="end" font-family="'Liberation Sans', Arial, Helvetica, sans-serif" stroke="#000" stroke-width="0.3" >24</text>
<text x="1144" y="665.7" font-size="30.5" text-anchor="end" font-family="'Liberation Sans', Arial, Helvetica, sans-serif" stroke="#000" stroke-width="0.3" >12</text>
<text x="1144" y="753" font-size="30.5" text-anchor="end" font-family="'Liberation Sans', Arial, Helvetica, sans-serif" stroke="#000" stroke-width="0.3" >0</text>
<text x="1096" y="630.2" font-size="33" font-family="'Liberation Sans', Arial, Helvetica, sans-serif" stroke="#000" stroke-width="0.3" transform="rotate(-90 1096 630.2)">σ<tspan font-size="24" dy="12.5">θ</tspan></text>
<polygon points="1364.8,646.52 1354.14,664.98 1375.46,664.98" fill="none" stroke="#000" stroke-width="3.4" stroke-linejoin="miter"/>
<polygon points="1388,643.92 1377.34,662.38 1398.66,662.38" fill="none" stroke="#000" stroke-width="3.4" stroke-linejoin="miter"/>
<polygon points="1405,641.62 1394.34,660.08 1415.66,660.08" fill="none" stroke="#000" stroke-width="3.4" stroke-linejoin="miter"/>
<polygon points="1432.7,643.92 1422.04,662.38 1443.36,662.38" fill="none" stroke="#000" stroke-width="3.4" stroke-linejoin="miter"/>
<polygon points="1401.2,662.62 1390.54,681.08 1411.86,681.08" fill="none" stroke="#000" stroke-width="3.4" stroke-linejoin="miter"/>
<polygon points="1417.3,667.52 1406.64,685.98 1427.96,685.98" fill="none" stroke="#000" stroke-width="3.4" stroke-linejoin="miter"/>
<rect x="1307.3" y="688.8" width="15.4" height="15.4" fill="none" stroke="#139013" stroke-width="3.15"/>
<circle cx="1315" cy="696.5" r="3.2" fill="#139013"/>
<rect x="1405.4" y="573.9" width="15.4" height="15.4" fill="none" stroke="#139013" stroke-width="3.15"/>
<rect x="1432.3" y="570.4" width="15.4" height="15.4" fill="none" stroke="#139013" stroke-width="3.15"/>
<rect x="1393.8" y="609" width="15.4" height="15.4" fill="none" stroke="#139013" stroke-width="3.15"/>
<circle cx="1401.5" cy="616.7" r="3.2" fill="#139013"/>
<rect x="1414.8" y="616.8" width="15.4" height="15.4" fill="none" stroke="#139013" stroke-width="3.15"/>
<circle cx="1422.5" cy="624.5" r="3.2" fill="#139013"/>
<rect x="1394.6" y="621.3" width="15.4" height="15.4" fill="none" stroke="#139013" stroke-width="3.15"/>
<rect x="1392.3" y="637.1" width="15.4" height="15.4" fill="none" stroke="#139013" stroke-width="3.15"/>
<rect x="1386.3" y="634.8" width="15.4" height="15.4" fill="none" stroke="#139013" stroke-width="3.15"/>
<rect x="1397.6" y="644.6" width="15.4" height="15.4" fill="none" stroke="#139013" stroke-width="3.15"/>
<rect x="1424.6" y="631.1" width="15.4" height="15.4" fill="none" stroke="#139013" stroke-width="3.15"/>
<rect x="1424.6" y="638.3" width="15.4" height="15.4" fill="none" stroke="#139013" stroke-width="3.15"/>
<rect x="1420.9" y="654.3" width="15.4" height="15.4" fill="none" stroke="#139013" stroke-width="3.15"/>
<rect x="1337.6" y="643.8" width="15.4" height="15.4" fill="none" stroke="#139013" stroke-width="3.15"/>
<circle cx="1345.3" cy="651.5" r="3.2" fill="#139013"/>
<rect x="1351.1" y="642.3" width="15.4" height="15.4" fill="none" stroke="#139013" stroke-width="3.15"/>
<rect x="1378.8" y="652.8" width="15.4" height="15.4" fill="none" stroke="#139013" stroke-width="3.15"/>
<circle cx="1386.5" cy="660.5" r="3.2" fill="#139013"/>
<rect x="1409.6" y="669.3" width="15.4" height="15.4" fill="none" stroke="#139013" stroke-width="3.15"/>
<rect x="1433.6" y="670.8" width="15.4" height="15.4" fill="none" stroke="#139013" stroke-width="3.15"/>
<rect x="1409.6" y="688.1" width="15.4" height="15.4" fill="none" stroke="#139013" stroke-width="3.15"/>
<circle cx="1417.3" cy="695.8" r="3.2" fill="#139013"/>
<circle cx="1395.5" cy="445.7" r="9.4" fill="none" stroke="#cc1108" stroke-width="3.15"/>
<circle cx="1395.5" cy="445.7" r="3.2" fill="#cc1108"/>
<circle cx="1243.2" cy="493" r="9.4" fill="none" stroke="#cc1108" stroke-width="3.15"/>
<circle cx="1243.2" cy="493" r="3.2" fill="#cc1108"/>
<circle cx="1394.5" cy="501.1" r="9.4" fill="none" stroke="#cc1108" stroke-width="3.15"/>
<circle cx="1394.5" cy="501.1" r="3.2" fill="#cc1108"/>
<circle cx="1402.6" cy="498.6" r="9.4" fill="none" stroke="#cc1108" stroke-width="3.15"/>
<circle cx="1412" cy="562.4" r="9.4" fill="none" stroke="#cc1108" stroke-width="3.15"/>
<circle cx="1368.2" cy="575.7" r="9.4" fill="none" stroke="#cc1108" stroke-width="3.15"/>
<circle cx="1368.2" cy="575.7" r="3.2" fill="#cc1108"/>
<circle cx="1398" cy="575.3" r="9.4" fill="none" stroke="#cc1108" stroke-width="3.15"/>
<circle cx="1398" cy="575.3" r="3.2" fill="#cc1108"/>
<circle cx="1392" cy="592.8" r="9.4" fill="none" stroke="#cc1108" stroke-width="3.15"/>
<circle cx="1392.7" cy="600.9" r="9.4" fill="none" stroke="#cc1108" stroke-width="3.15"/>
<circle cx="1413.1" cy="602.6" r="9.4" fill="none" stroke="#cc1108" stroke-width="3.15"/>
<circle cx="1413.1" cy="602.6" r="3.2" fill="#cc1108"/>
<circle cx="1442.5" cy="599.1" r="9.4" fill="none" stroke="#cc1108" stroke-width="3.15"/>
<circle cx="1453" cy="590.4" r="9.4" fill="none" stroke="#cc1108" stroke-width="3.15"/>
<circle cx="1402.6" cy="612.5" r="9.4" fill="none" stroke="#cc1108" stroke-width="3.15"/>
<circle cx="1402.6" cy="612.5" r="3.2" fill="#cc1108"/>
<circle cx="1422.5" cy="618.4" r="9.4" fill="none" stroke="#cc1108" stroke-width="3.15"/>
<circle cx="1422.5" cy="618.4" r="3.2" fill="#cc1108"/>
<circle cx="1341.3" cy="623.7" r="9.4" fill="none" stroke="#cc1108" stroke-width="3.15"/>
<circle cx="1341.3" cy="623.7" r="3.2" fill="#cc1108"/>
<circle cx="1369.3" cy="627.2" r="9.4" fill="none" stroke="#cc1108" stroke-width="3.15"/>
<circle cx="1281.7" cy="641.9" r="9.4" fill="none" stroke="#cc1108" stroke-width="3.15"/>
<circle cx="1281.7" cy="641.9" r="3.2" fill="#cc1108"/>
<circle cx="1361.9" cy="646.4" r="9.4" fill="none" stroke="#cc1108" stroke-width="3.15"/>
<circle cx="1361.9" cy="646.4" r="3.2" fill="#cc1108"/>
<circle cx="1343" cy="671" r="9.4" fill="none" stroke="#cc1108" stroke-width="3.15"/>
<circle cx="1424.3" cy="657" r="9.4" fill="none" stroke="#cc1108" stroke-width="3.15"/>
<circle cx="1424.3" cy="671" r="9.4" fill="none" stroke="#cc1108" stroke-width="3.15"/>
<text x="1090.5" y="833" font-size="58.5" text-anchor="start" font-family="'DejaVu Sans', 'Liberation Sans', sans-serif" stroke="#000" stroke-width="0.3" >g</text>
<line x1="1157.3" y1="803.6" x2="1157.3" y2="1121.75" stroke="#1a1a1a" stroke-width="1.5" />
<line x1="1156.55" y1="1121" x2="1475.2" y2="1121" stroke="#1a1a1a" stroke-width="1.5" />
<line x1="1157.3" y1="1121" x2="1160.8" y2="1121" stroke="#1a1a1a" stroke-width="1" />
<line x1="1157.3" y1="1082.08" x2="1159.3" y2="1082.08" stroke="#1a1a1a" stroke-width="1" />
<line x1="1157.3" y1="1059.31" x2="1159.3" y2="1059.31" stroke="#1a1a1a" stroke-width="1" />
<line x1="1157.3" y1="1043.15" x2="1159.3" y2="1043.15" stroke="#1a1a1a" stroke-width="1" />
<line x1="1157.3" y1="1030.62" x2="1159.3" y2="1030.62" stroke="#1a1a1a" stroke-width="1" />
<line x1="1157.3" y1="1020.39" x2="1159.3" y2="1020.39" stroke="#1a1a1a" stroke-width="1" />
<line x1="1157.3" y1="1011.73" x2="1159.3" y2="1011.73" stroke="#1a1a1a" stroke-width="1" />
<line x1="1157.3" y1="1004.23" x2="1159.3" y2="1004.23" stroke="#1a1a1a" stroke-width="1" />
<line x1="1157.3" y1="997.62" x2="1159.3" y2="997.62" stroke="#1a1a1a" stroke-width="1" />
<line x1="1157.3" y1="991.7" x2="1160.8" y2="991.7" stroke="#1a1a1a" stroke-width="1" />
<line x1="1157.3" y1="952.78" x2="1159.3" y2="952.78" stroke="#1a1a1a" stroke-width="1" />
<line x1="1157.3" y1="930.01" x2="1159.3" y2="930.01" stroke="#1a1a1a" stroke-width="1" />
<line x1="1157.3" y1="913.85" x2="1159.3" y2="913.85" stroke="#1a1a1a" stroke-width="1" />
<line x1="1157.3" y1="901.32" x2="1159.3" y2="901.32" stroke="#1a1a1a" stroke-width="1" />
<line x1="1157.3" y1="891.09" x2="1159.3" y2="891.09" stroke="#1a1a1a" stroke-width="1" />
<line x1="1157.3" y1="882.43" x2="1159.3" y2="882.43" stroke="#1a1a1a" stroke-width="1" />
<line x1="1157.3" y1="874.93" x2="1159.3" y2="874.93" stroke="#1a1a1a" stroke-width="1" />
<line x1="1157.3" y1="868.32" x2="1159.3" y2="868.32" stroke="#1a1a1a" stroke-width="1" />
<line x1="1157.3" y1="862.4" x2="1160.8" y2="862.4" stroke="#1a1a1a" stroke-width="1" />
<line x1="1157.3" y1="823.48" x2="1159.3" y2="823.48" stroke="#1a1a1a" stroke-width="1" />
<line x1="1157.3" y1="1121" x2="1157.3" y2="1117.5" stroke="#1a1a1a" stroke-width="1" />
<line x1="1198.9" y1="1121" x2="1198.9" y2="1119" stroke="#1a1a1a" stroke-width="1" />
<line x1="1223.24" y1="1121" x2="1223.24" y2="1119" stroke="#1a1a1a" stroke-width="1" />
<line x1="1240.5" y1="1121" x2="1240.5" y2="1119" stroke="#1a1a1a" stroke-width="1" />
<line x1="1253.9" y1="1121" x2="1253.9" y2="1119" stroke="#1a1a1a" stroke-width="1" />
<line x1="1264.84" y1="1121" x2="1264.84" y2="1119" stroke="#1a1a1a" stroke-width="1" />
<line x1="1274.09" y1="1121" x2="1274.09" y2="1119" stroke="#1a1a1a" stroke-width="1" />
<line x1="1282.11" y1="1121" x2="1282.11" y2="1119" stroke="#1a1a1a" stroke-width="1" />
<line x1="1289.18" y1="1121" x2="1289.18" y2="1119" stroke="#1a1a1a" stroke-width="1" />
<line x1="1295.5" y1="1121" x2="1295.5" y2="1117.5" stroke="#1a1a1a" stroke-width="1" />
<line x1="1337.1" y1="1121" x2="1337.1" y2="1119" stroke="#1a1a1a" stroke-width="1" />
<line x1="1361.44" y1="1121" x2="1361.44" y2="1119" stroke="#1a1a1a" stroke-width="1" />
<line x1="1378.7" y1="1121" x2="1378.7" y2="1119" stroke="#1a1a1a" stroke-width="1" />
<line x1="1392.1" y1="1121" x2="1392.1" y2="1119" stroke="#1a1a1a" stroke-width="1" />
<line x1="1403.04" y1="1121" x2="1403.04" y2="1119" stroke="#1a1a1a" stroke-width="1" />
<line x1="1412.29" y1="1121" x2="1412.29" y2="1119" stroke="#1a1a1a" stroke-width="1" />
<line x1="1420.31" y1="1121" x2="1420.31" y2="1119" stroke="#1a1a1a" stroke-width="1" />
<line x1="1427.38" y1="1121" x2="1427.38" y2="1119" stroke="#1a1a1a" stroke-width="1" />
<line x1="1433.7" y1="1121" x2="1433.7" y2="1117.5" stroke="#1a1a1a" stroke-width="1" />
<line x1="1475.3" y1="1121" x2="1475.3" y2="1119" stroke="#1a1a1a" stroke-width="1" />
<text x="0" y="0" font-size="29.5" text-anchor="end" font-family="'Liberation Sans', Arial, Helvetica, sans-serif" transform="translate(1144.3 874.5) scale(1 1.05)" stroke="#000" stroke-width="0.3" >0.1</text>
<text x="0" y="0" font-size="29.5" text-anchor="end" font-family="'Liberation Sans', Arial, Helvetica, sans-serif" transform="translate(1144.3 1004.2) scale(1 1.05)" stroke="#000" stroke-width="0.3" >0.01</text>
<text x="1157.5" y="1153.6" font-size="31.5" text-anchor="middle" font-family="'Liberation Sans', Arial, Helvetica, sans-serif" stroke="#000" stroke-width="0.3" >1</text>
<text x="1294.4" y="1153.6" font-size="31.5" text-anchor="middle" font-family="'Liberation Sans', Arial, Helvetica, sans-serif" stroke="#000" stroke-width="0.3" >10</text>
<text x="1432.8" y="1153.6" font-size="31.5" text-anchor="middle" font-family="'Liberation Sans', Arial, Helvetica, sans-serif" stroke="#000" stroke-width="0.3" >100</text>
<text x="1313.4" y="1182.4" font-size="31.6" text-anchor="middle" font-family="'Liberation Sans', Arial, Helvetica, sans-serif" stroke="#000" stroke-width="0.3" >Sensitivity at low-SF</text>
<text x="1098.2" y="959.8" font-size="33" font-family="'Liberation Sans', Arial, Helvetica, sans-serif" stroke="#000" stroke-width="0.3" transform="rotate(-90 1098.2 959.8)">c<tspan font-size="25.5" dy="10">min</tspan></text>
<polygon points="1364.7,834.52 1354.04,852.98 1375.36,852.98" fill="none" stroke="#000" stroke-width="3.4" stroke-linejoin="miter"/>
<polygon points="1384.1,851.52 1373.44,869.98 1394.76,869.98" fill="none" stroke="#000" stroke-width="3.4" stroke-linejoin="miter"/>
<polygon points="1399.5,861.82 1388.84,880.28 1410.16,880.28" fill="none" stroke="#000" stroke-width="3.4" stroke-linejoin="miter"/>
<polygon points="1418.2,863.52 1407.54,881.98 1428.86,881.98" fill="none" stroke="#000" stroke-width="3.4" stroke-linejoin="miter"/>
<polygon points="1438.7,904.42 1428.04,922.88 1449.36,922.88" fill="none" stroke="#000" stroke-width="3.4" stroke-linejoin="miter"/>
<polygon points="1425,881.62 1414.34,900.08 1435.66,900.08" fill="none" stroke="#000" stroke-width="3.4" stroke-linejoin="miter"/>
<rect x="1350.8" y="847.1" width="15.4" height="15.4" fill="none" stroke="#139013" stroke-width="3.15"/>
<circle cx="1358.5" cy="854.8" r="3.2" fill="#139013"/>
<rect x="1306.5" y="911.9" width="15.4" height="15.4" fill="none" stroke="#139013" stroke-width="3.15"/>
<circle cx="1314.2" cy="919.6" r="3.2" fill="#139013"/>
<rect x="1338.9" y="906.8" width="15.4" height="15.4" fill="none" stroke="#139013" stroke-width="3.15"/>
<circle cx="1346.6" cy="914.5" r="3.2" fill="#139013"/>
<rect x="1376.6" y="880.1" width="15.4" height="15.4" fill="none" stroke="#139013" stroke-width="3.15"/>
<rect x="1394.6" y="904.9" width="15.4" height="15.4" fill="none" stroke="#139013" stroke-width="3.15"/>
<circle cx="1402.3" cy="912.6" r="3.2" fill="#139013"/>
<rect x="1426.1" y="886.8" width="15.4" height="15.4" fill="none" stroke="#139013" stroke-width="3.15"/>
<rect x="1426.9" y="903.3" width="15.4" height="15.4" fill="none" stroke="#139013" stroke-width="3.15"/>
<rect x="1408.8" y="931.1" width="15.4" height="15.4" fill="none" stroke="#139013" stroke-width="3.15"/>
<rect x="1416.3" y="931.1" width="15.4" height="15.4" fill="none" stroke="#139013" stroke-width="3.15"/>
<rect x="1433.6" y="929.6" width="15.4" height="15.4" fill="none" stroke="#139013" stroke-width="3.15"/>
<rect x="1400.3" y="932.3" width="15.4" height="15.4" fill="none" stroke="#139013" stroke-width="3.15"/>
<circle cx="1343.2" cy="848" r="9.4" fill="none" stroke="#cc1108" stroke-width="3.15"/>
<circle cx="1363.6" cy="918" r="9.4" fill="none" stroke="#cc1108" stroke-width="3.15"/>
<circle cx="1363.6" cy="918" r="3.2" fill="#cc1108"/>
<circle cx="1282.4" cy="934.3" r="9.4" fill="none" stroke="#cc1108" stroke-width="3.15"/>
<circle cx="1282.4" cy="934.3" r="3.2" fill="#cc1108"/>
<circle cx="1341.5" cy="1021.3" r="9.4" fill="none" stroke="#cc1108" stroke-width="3.15"/>
<circle cx="1341.5" cy="1021.3" r="3.2" fill="#cc1108"/>
<circle cx="1370.5" cy="1016.9" r="9.4" fill="none" stroke="#cc1108" stroke-width="3.15"/>
<circle cx="1368.8" cy="1031.2" r="9.4" fill="none" stroke="#cc1108" stroke-width="3.15"/>
<circle cx="1368.8" cy="1031.2" r="3.2" fill="#cc1108"/>
<circle cx="1412.4" cy="1053.4" r="9.4" fill="none" stroke="#cc1108" stroke-width="3.15"/>
<circle cx="1244.2" cy="1083.4" r="9.4" fill="none" stroke="#cc1108" stroke-width="3.15"/>
<circle cx="1244.2" cy="1083.4" r="3.2" fill="#cc1108"/>
<circle cx="1394" cy="882.5" r="9.4" fill="none" stroke="#cc1108" stroke-width="3.15"/>
<circle cx="1400" cy="884.8" r="9.4" fill="none" stroke="#cc1108" stroke-width="3.15"/>
<circle cx="1392.5" cy="891.5" r="9.4" fill="none" stroke="#cc1108" stroke-width="3.15"/>
<circle cx="1401.5" cy="899" r="9.4" fill="none" stroke="#cc1108" stroke-width="3.15"/>
<circle cx="1409.8" cy="898.3" r="9.4" fill="none" stroke="#cc1108" stroke-width="3.15"/>
<circle cx="1416.5" cy="897.5" r="9.4" fill="none" stroke="#cc1108" stroke-width="3.15"/>
<circle cx="1426.3" cy="894.5" r="9.4" fill="none" stroke="#cc1108" stroke-width="3.15"/>
<circle cx="1422.6" cy="917" r="9.4" fill="none" stroke="#cc1108" stroke-width="3.15"/>
<circle cx="1394.8" cy="929.8" r="9.4" fill="none" stroke="#cc1108" stroke-width="3.15"/>
<circle cx="1402.3" cy="933.6" r="9.4" fill="none" stroke="#cc1108" stroke-width="3.15"/>
<circle cx="1442" cy="930.6" r="9.4" fill="none" stroke="#cc1108" stroke-width="3.15"/>
<circle cx="1453.3" cy="927.6" r="9.4" fill="none" stroke="#cc1108" stroke-width="3.15"/>
<text x="1514" y="49.3" font-size="58.5" text-anchor="start" font-family="'DejaVu Sans', 'Liberation Sans', sans-serif" stroke="#000" stroke-width="0.3" >h</text>
<line x1="1575.4" y1="50.1" x2="1575.4" y2="368.55" stroke="#1a1a1a" stroke-width="1.5" />
<line x1="1574.65" y1="367.8" x2="1893.5" y2="367.8" stroke="#1a1a1a" stroke-width="1.5" />
<line x1="1575.4" y1="325.44" x2="1578.9" y2="325.44" stroke="#1a1a1a" stroke-width="1" />
<line x1="1575.4" y1="283.08" x2="1578.9" y2="283.08" stroke="#1a1a1a" stroke-width="1" />
<line x1="1575.4" y1="240.72" x2="1578.9" y2="240.72" stroke="#1a1a1a" stroke-width="1" />
<line x1="1575.4" y1="198.36" x2="1578.9" y2="198.36" stroke="#1a1a1a" stroke-width="1" />
<line x1="1575.4" y1="156" x2="1578.9" y2="156" stroke="#1a1a1a" stroke-width="1" />
<line x1="1575.4" y1="113.64" x2="1578.9" y2="113.64" stroke="#1a1a1a" stroke-width="1" />
<line x1="1575.4" y1="71.28" x2="1578.9" y2="71.28" stroke="#1a1a1a" stroke-width="1" />
<line x1="1575.4" y1="367.8" x2="1575.4" y2="364.3" stroke="#1a1a1a" stroke-width="1" />
<line x1="1613.9" y1="367.8" x2="1613.9" y2="365.8" stroke="#1a1a1a" stroke-width="1" />
<line x1="1636.42" y1="367.8" x2="1636.42" y2="365.8" stroke="#1a1a1a" stroke-width="1" />
<line x1="1652.4" y1="367.8" x2="1652.4" y2="365.8" stroke="#1a1a1a" stroke-width="1" />
<line x1="1664.8" y1="367.8" x2="1664.8" y2="365.8" stroke="#1a1a1a" stroke-width="1" />
<line x1="1674.93" y1="367.8" x2="1674.93" y2="365.8" stroke="#1a1a1a" stroke-width="1" />
<line x1="1683.49" y1="367.8" x2="1683.49" y2="365.8" stroke="#1a1a1a" stroke-width="1" />
<line x1="1690.91" y1="367.8" x2="1690.91" y2="365.8" stroke="#1a1a1a" stroke-width="1" />
<line x1="1697.45" y1="367.8" x2="1697.45" y2="365.8" stroke="#1a1a1a" stroke-width="1" />
<line x1="1703.3" y1="367.8" x2="1703.3" y2="364.3" stroke="#1a1a1a" stroke-width="1" />
<line x1="1741.8" y1="367.8" x2="1741.8" y2="365.8" stroke="#1a1a1a" stroke-width="1" />
<line x1="1764.32" y1="367.8" x2="1764.32" y2="365.8" stroke="#1a1a1a" stroke-width="1" />
<line x1="1780.3" y1="367.8" x2="1780.3" y2="365.8" stroke="#1a1a1a" stroke-width="1" />
<line x1="1792.7" y1="367.8" x2="1792.7" y2="365.8" stroke="#1a1a1a" stroke-width="1" />
<line x1="1802.83" y1="367.8" x2="1802.83" y2="365.8" stroke="#1a1a1a" stroke-width="1" />
<line x1="1811.39" y1="367.8" x2="1811.39" y2="365.8" stroke="#1a1a1a" stroke-width="1" />
<line x1="1818.81" y1="367.8" x2="1818.81" y2="365.8" stroke="#1a1a1a" stroke-width="1" />
<line x1="1825.35" y1="367.8" x2="1825.35" y2="365.8" stroke="#1a1a1a" stroke-width="1" />
<line x1="1831.2" y1="367.8" x2="1831.2" y2="364.3" stroke="#1a1a1a" stroke-width="1" />
<line x1="1869.7" y1="367.8" x2="1869.7" y2="365.8" stroke="#1a1a1a" stroke-width="1" />
<line x1="1892.22" y1="367.8" x2="1892.22" y2="365.8" stroke="#1a1a1a" stroke-width="1" />
<text x="1564.5" y="190.9" font-size="30.5" text-anchor="end" font-family="'Liberation Sans', Arial, Helvetica, sans-serif" stroke="#000" stroke-width="0.3" >24</text>
<text x="1564.5" y="287.2" font-size="30.5" text-anchor="end" font-family="'Liberation Sans', Arial, Helvetica, sans-serif" stroke="#000" stroke-width="0.3" >12</text>
<text x="1564.5" y="371.3" font-size="30.5" text-anchor="end" font-family="'Liberation Sans', Arial, Helvetica, sans-serif" stroke="#000" stroke-width="0.3" >0</text>
<text x="1702.4" y="402.8" font-size="30.5" text-anchor="middle" font-family="'Liberation Sans', Arial, Helvetica, sans-serif" stroke="#000" stroke-width="0.3" >0.01</text>
<text x="1827.6" y="402.8" font-size="30.5" text-anchor="middle" font-family="'Liberation Sans', Arial, Helvetica, sans-serif" stroke="#000" stroke-width="0.3" >0.1</text>
<text x="1738.5" y="435.5" font-size="33" font-family="'Liberation Sans', Arial, Helvetica, sans-serif" stroke="#000" stroke-width="0.3">c<tspan font-size="25.5" dy="10">min</tspan></text>
<text x="1515.5" y="252" font-size="33" font-family="'Liberation Sans', Arial, Helvetica, sans-serif" stroke="#000" stroke-width="0.3" transform="rotate(-90 1515.5 252)">σ<tspan font-size="24" dy="12.5">θ</tspan></text>
<polygon points="1781,256.62 1770.34,275.08 1791.66,275.08" fill="none" stroke="#000" stroke-width="3.4" stroke-linejoin="miter"/>
<polygon points="1823.5,240.52 1812.84,258.98 1834.16,258.98" fill="none" stroke="#000" stroke-width="3.4" stroke-linejoin="miter"/>
<polygon points="1821.8,259.22 1811.14,277.68 1832.46,277.68" fill="none" stroke="#000" stroke-width="3.4" stroke-linejoin="miter"/>
<polygon points="1821.8,280.22 1811.14,298.68 1832.46,298.68" fill="none" stroke="#000" stroke-width="3.4" stroke-linejoin="miter"/>
<polygon points="1826.4,274.42 1815.74,292.88 1837.06,292.88" fill="none" stroke="#000" stroke-width="3.4" stroke-linejoin="miter"/>
<polygon points="1841.6,253.42 1830.94,271.88 1852.26,271.88" fill="none" stroke="#000" stroke-width="3.4" stroke-linejoin="miter"/>
<polygon points="1852.1,261.52 1841.44,279.98 1862.76,279.98" fill="none" stroke="#000" stroke-width="3.4" stroke-linejoin="miter"/>
<rect x="1753.3" y="185.1" width="15.4" height="15.4" fill="none" stroke="#139013" stroke-width="3.15"/>
<rect x="1757.4" y="181.6" width="15.4" height="15.4" fill="none" stroke="#139013" stroke-width="3.15"/>
<rect x="1781.3" y="224.9" width="15.4" height="15.4" fill="none" stroke="#139013" stroke-width="3.15"/>
<rect x="1800" y="221.3" width="15.4" height="15.4" fill="none" stroke="#139013" stroke-width="3.15"/>
<rect x="1779" y="235.3" width="15.4" height="15.4" fill="none" stroke="#139013" stroke-width="3.15"/>
<rect x="1798.9" y="234.2" width="15.4" height="15.4" fill="none" stroke="#139013" stroke-width="3.15"/>
<circle cx="1806.6" cy="241.9" r="3.2" fill="#139013"/>
<rect x="1793" y="244.7" width="15.4" height="15.4" fill="none" stroke="#139013" stroke-width="3.15"/>
<rect x="1786" y="254.1" width="15.4" height="15.4" fill="none" stroke="#139013" stroke-width="3.15"/>
<rect x="1800" y="256.4" width="15.4" height="15.4" fill="none" stroke="#139013" stroke-width="3.15"/>
<rect x="1748.7" y="263.4" width="15.4" height="15.4" fill="none" stroke="#139013" stroke-width="3.15"/>
<rect x="1758.3" y="264.3" width="15.4" height="15.4" fill="none" stroke="#139013" stroke-width="3.15"/>
<rect x="1772.3" y="268.3" width="15.4" height="15.4" fill="none" stroke="#139013" stroke-width="3.15"/>
<rect x="1752.2" y="283.3" width="15.4" height="15.4" fill="none" stroke="#139013" stroke-width="3.15"/>
<rect x="1764.3" y="277.3" width="15.4" height="15.4" fill="none" stroke="#139013" stroke-width="3.15"/>
<rect x="1788.4" y="284.4" width="15.4" height="15.4" fill="none" stroke="#139013" stroke-width="3.15"/>
<rect x="1769.7" y="300.8" width="15.4" height="15.4" fill="none" stroke="#139013" stroke-width="3.15"/>
<circle cx="1777.4" cy="308.5" r="3.2" fill="#139013"/>
<rect x="1781.3" y="300.8" width="15.4" height="15.4" fill="none" stroke="#139013" stroke-width="3.15"/>
<circle cx="1789" cy="308.5" r="3.2" fill="#139013"/>
<rect x="1835.1" y="254.6" width="15.4" height="15.4" fill="none" stroke="#139013" stroke-width="3.15"/>
<circle cx="1842.8" cy="262.3" r="3.2" fill="#139013"/>
<circle cx="1766.5" cy="58.5" r="9.4" fill="none" stroke="#cc1108" stroke-width="3.15"/>
<circle cx="1766.5" cy="58.5" r="3.2" fill="#cc1108"/>
<circle cx="1613.1" cy="105.1" r="9.4" fill="none" stroke="#cc1108" stroke-width="3.15"/>
<circle cx="1613.1" cy="105.1" r="3.2" fill="#cc1108"/>
<circle cx="1762" cy="111.4" r="9.4" fill="none" stroke="#cc1108" stroke-width="3.15"/>
<circle cx="1804" cy="113.8" r="9.4" fill="none" stroke="#cc1108" stroke-width="3.15"/>
<circle cx="1804" cy="113.8" r="3.2" fill="#cc1108"/>
<circle cx="1642.9" cy="175.8" r="9.4" fill="none" stroke="#cc1108" stroke-width="3.15"/>
<circle cx="1665.6" cy="188.4" r="9.4" fill="none" stroke="#cc1108" stroke-width="3.15"/>
<circle cx="1665.6" cy="188.4" r="3.2" fill="#cc1108"/>
<circle cx="1813" cy="187.9" r="9.4" fill="none" stroke="#cc1108" stroke-width="3.15"/>
<circle cx="1813" cy="187.9" r="3.2" fill="#cc1108"/>
<circle cx="1769.2" cy="201" r="9.4" fill="none" stroke="#cc1108" stroke-width="3.15"/>
<circle cx="1766.3" cy="211.5" r="9.4" fill="none" stroke="#cc1108" stroke-width="3.15"/>
<circle cx="1811.2" cy="205.7" r="9.4" fill="none" stroke="#cc1108" stroke-width="3.15"/>
<circle cx="1803.1" cy="212.7" r="9.4" fill="none" stroke="#cc1108" stroke-width="3.15"/>
<circle cx="1796.1" cy="215" r="9.4" fill="none" stroke="#cc1108" stroke-width="3.15"/>
<circle cx="1798.4" cy="219.7" r="9.4" fill="none" stroke="#cc1108" stroke-width="3.15"/>
<circle cx="1794.9" cy="225.5" r="9.4" fill="none" stroke="#cc1108" stroke-width="3.15"/>
<circle cx="1780.3" cy="230.2" r="9.4" fill="none" stroke="#cc1108" stroke-width="3.15"/>
<circle cx="1676.1" cy="237.1" r="9.4" fill="none" stroke="#cc1108" stroke-width="3.15"/>
<circle cx="1676.1" cy="237.1" r="3.2" fill="#cc1108"/>
<circle cx="1677.9" cy="241" r="9.4" fill="none" stroke="#cc1108" stroke-width="3.15"/>
<circle cx="1762.2" cy="254.2" r="9.4" fill="none" stroke="#cc1108" stroke-width="3.15"/>
<circle cx="1762.2" cy="254.2" r="3.2" fill="#cc1108"/>
<circle cx="1779.7" cy="258.3" r="9.4" fill="none" stroke="#cc1108" stroke-width="3.15"/>
<circle cx="1779.7" cy="258.3" r="3.2" fill="#cc1108"/>
<circle cx="1800.7" cy="269.9" r="9.4" fill="none" stroke="#cc1108" stroke-width="3.15"/>
<circle cx="1800.1" cy="284" r="9.4" fill="none" stroke="#cc1108" stroke-width="3.15"/>
<circle cx="1848" cy="283.4" r="9.4" fill="none" stroke="#cc1108" stroke-width="3.15"/>
<text x="1531.6" y="467" font-size="58.5" text-anchor="start" font-family="'DejaVu Sans', 'Liberation Sans', sans-serif" stroke="#000" stroke-width="0.3" >i</text>
<line x1="1575.4" y1="436.3" x2="1575.4" y2="755.75" stroke="#1a1a1a" stroke-width="1.5" />
<line x1="1574.65" y1="755" x2="1893.5" y2="755" stroke="#1a1a1a" stroke-width="1.5" />
<line x1="1575.4" y1="712.49" x2="1578.9" y2="712.49" stroke="#1a1a1a" stroke-width="1" />
<line x1="1575.4" y1="669.98" x2="1578.9" y2="669.98" stroke="#1a1a1a" stroke-width="1" />
<line x1="1575.4" y1="627.47" x2="1578.9" y2="627.47" stroke="#1a1a1a" stroke-width="1" />
<line x1="1575.4" y1="584.96" x2="1578.9" y2="584.96" stroke="#1a1a1a" stroke-width="1" />
<line x1="1575.4" y1="542.45" x2="1578.9" y2="542.45" stroke="#1a1a1a" stroke-width="1" />
<line x1="1575.4" y1="499.94" x2="1578.9" y2="499.94" stroke="#1a1a1a" stroke-width="1" />
<line x1="1575.4" y1="457.43" x2="1578.9" y2="457.43" stroke="#1a1a1a" stroke-width="1" />
<line x1="1575.4" y1="755" x2="1575.4" y2="751.5" stroke="#1a1a1a" stroke-width="1" />
<line x1="1623.35" y1="755" x2="1623.35" y2="753" stroke="#1a1a1a" stroke-width="1" />
<line x1="1651.41" y1="755" x2="1651.41" y2="753" stroke="#1a1a1a" stroke-width="1" />
<line x1="1671.31" y1="755" x2="1671.31" y2="753" stroke="#1a1a1a" stroke-width="1" />
<line x1="1686.75" y1="755" x2="1686.75" y2="753" stroke="#1a1a1a" stroke-width="1" />
<line x1="1699.36" y1="755" x2="1699.36" y2="753" stroke="#1a1a1a" stroke-width="1" />
<line x1="1710.02" y1="755" x2="1710.02" y2="753" stroke="#1a1a1a" stroke-width="1" />
<line x1="1719.26" y1="755" x2="1719.26" y2="753" stroke="#1a1a1a" stroke-width="1" />
<line x1="1727.41" y1="755" x2="1727.41" y2="753" stroke="#1a1a1a" stroke-width="1" />
<line x1="1734.7" y1="755" x2="1734.7" y2="751.5" stroke="#1a1a1a" stroke-width="1" />
<line x1="1782.65" y1="755" x2="1782.65" y2="753" stroke="#1a1a1a" stroke-width="1" />
<line x1="1810.71" y1="755" x2="1810.71" y2="753" stroke="#1a1a1a" stroke-width="1" />
<line x1="1830.61" y1="755" x2="1830.61" y2="753" stroke="#1a1a1a" stroke-width="1" />
<line x1="1846.05" y1="755" x2="1846.05" y2="753" stroke="#1a1a1a" stroke-width="1" />
<line x1="1858.66" y1="755" x2="1858.66" y2="753" stroke="#1a1a1a" stroke-width="1" />
<line x1="1869.32" y1="755" x2="1869.32" y2="753" stroke="#1a1a1a" stroke-width="1" />
<line x1="1878.56" y1="755" x2="1878.56" y2="753" stroke="#1a1a1a" stroke-width="1" />
<line x1="1886.71" y1="755" x2="1886.71" y2="753" stroke="#1a1a1a" stroke-width="1" />
<line x1="1894" y1="755" x2="1894" y2="751.5" stroke="#1a1a1a" stroke-width="1" />
<text x="1564" y="571.8" font-size="30.5" text-anchor="end" font-family="'Liberation Sans', Arial, Helvetica, sans-serif" stroke="#000" stroke-width="0.3" >24</text>
<text x="1564" y="667.4" font-size="30.5" text-anchor="end" font-family="'Liberation Sans', Arial, Helvetica, sans-serif" stroke="#000" stroke-width="0.3" >12</text>
<text x="1564" y="753.2" font-size="30.5" text-anchor="end" font-family="'Liberation Sans', Arial, Helvetica, sans-serif" stroke="#000" stroke-width="0.3" >0</text>
<text x="1576.3" y="783" font-size="30.5" text-anchor="middle" font-family="'Liberation Sans', Arial, Helvetica, sans-serif" stroke="#000" stroke-width="0.3" >0.01</text>
<text x="1733" y="783" font-size="30.5" text-anchor="middle" font-family="'Liberation Sans', Arial, Helvetica, sans-serif" stroke="#000" stroke-width="0.3" >0.1</text>
<text x="1737.5" y="818" font-size="31.5" text-anchor="middle" font-family="'Liberation Sans', Arial, Helvetica, sans-serif" stroke="#000" stroke-width="0.3" >linh</text>
<text x="1516" y="628.9" font-size="33" font-family="'Liberation Sans', Arial, Helvetica, sans-serif" stroke="#000" stroke-width="0.3" transform="rotate(-90 1516 628.9)">σ<tspan font-size="24" dy="12.5">θ</tspan></text>
<polygon points="1623.4,640.32 1612.74,658.78 1634.06,658.78" fill="none" stroke="#000" stroke-width="3.4" stroke-linejoin="miter"/>
<polygon points="1650.2,627.62 1639.54,646.08 1660.86,646.08" fill="none" stroke="#000" stroke-width="3.4" stroke-linejoin="miter"/>
<polygon points="1656,633.32 1645.34,651.78 1666.66,651.78" fill="none" stroke="#000" stroke-width="3.4" stroke-linejoin="miter"/>
<polygon points="1638.5,650.92 1627.84,669.38 1649.16,669.38" fill="none" stroke="#000" stroke-width="3.4" stroke-linejoin="miter"/>
<polygon points="1650.2,663.72 1639.54,682.18 1660.86,682.18" fill="none" stroke="#000" stroke-width="3.4" stroke-linejoin="miter"/>
<polygon points="1660.7,668.42 1650.04,686.88 1671.36,686.88" fill="none" stroke="#000" stroke-width="3.4" stroke-linejoin="miter"/>
<polygon points="1677.1,647.32 1666.44,665.78 1687.76,665.78" fill="none" stroke="#000" stroke-width="3.4" stroke-linejoin="miter"/>
<polygon points="1705.1,646.22 1694.44,664.68 1715.76,664.68" fill="none" stroke="#000" stroke-width="3.4" stroke-linejoin="miter"/>
<rect x="1630.8" y="573.9" width="15.4" height="15.4" fill="none" stroke="#139013" stroke-width="3.15"/>
<rect x="1667" y="568.6" width="15.4" height="15.4" fill="none" stroke="#139013" stroke-width="3.15"/>
<rect x="1633.2" y="614.8" width="15.4" height="15.4" fill="none" stroke="#139013" stroke-width="3.15"/>
<circle cx="1640.9" cy="622.5" r="3.2" fill="#139013"/>
<rect x="1660" y="609.5" width="15.4" height="15.4" fill="none" stroke="#139013" stroke-width="3.15"/>
<circle cx="1667.7" cy="617.2" r="3.2" fill="#139013"/>
<rect x="1674" y="622.4" width="15.4" height="15.4" fill="none" stroke="#139013" stroke-width="3.15"/>
<rect x="1676.4" y="627" width="15.4" height="15.4" fill="none" stroke="#139013" stroke-width="3.15"/>
<circle cx="1684.1" cy="634.7" r="3.2" fill="#139013"/>
<rect x="1684.5" y="634" width="15.4" height="15.4" fill="none" stroke="#139013" stroke-width="3.15"/>
<rect x="1697.4" y="632.9" width="15.4" height="15.4" fill="none" stroke="#139013" stroke-width="3.15"/>
<rect x="1679.9" y="644.5" width="15.4" height="15.4" fill="none" stroke="#139013" stroke-width="3.15"/>
<rect x="1714.3" y="644.5" width="15.4" height="15.4" fill="none" stroke="#139013" stroke-width="3.15"/>
<circle cx="1722" cy="652.2" r="3.2" fill="#139013"/>
<rect x="1713.7" y="658" width="15.4" height="15.4" fill="none" stroke="#139013" stroke-width="3.15"/>
<rect x="1636.7" y="642.2" width="15.4" height="15.4" fill="none" stroke="#139013" stroke-width="3.15"/>
<rect x="1641.3" y="651.6" width="15.4" height="15.4" fill="none" stroke="#139013" stroke-width="3.15"/>
<rect x="1657.1" y="670.2" width="15.4" height="15.4" fill="none" stroke="#139013" stroke-width="3.15"/>
<rect x="1676.4" y="669.1" width="15.4" height="15.4" fill="none" stroke="#139013" stroke-width="3.15"/>
<rect x="1680.5" y="686.6" width="15.4" height="15.4" fill="none" stroke="#139013" stroke-width="3.15"/>
<circle cx="1688.2" cy="694.3" r="3.2" fill="#139013"/>
<rect x="1756" y="688.8" width="15.4" height="15.4" fill="none" stroke="#139013" stroke-width="3.15"/>
<circle cx="1763.7" cy="696.5" r="3.2" fill="#139013"/>
<circle cx="1631.3" cy="445.7" r="9.4" fill="none" stroke="#cc1108" stroke-width="3.15"/>
<circle cx="1631.3" cy="445.7" r="3.2" fill="#cc1108"/>
<circle cx="1640.1" cy="501.8" r="9.4" fill="none" stroke="#cc1108" stroke-width="3.15"/>
<circle cx="1640.1" cy="501.8" r="3.2" fill="#cc1108"/>
<circle cx="1686.7" cy="498.3" r="9.4" fill="none" stroke="#cc1108" stroke-width="3.15"/>
<circle cx="1724.5" cy="492.3" r="9.4" fill="none" stroke="#cc1108" stroke-width="3.15"/>
<circle cx="1724.5" cy="492.3" r="3.2" fill="#cc1108"/>
<circle cx="1699.3" cy="563.5" r="9.4" fill="none" stroke="#cc1108" stroke-width="3.15"/>
<circle cx="1671.2" cy="574" r="9.4" fill="none" stroke="#cc1108" stroke-width="3.15"/>
<circle cx="1678.8" cy="575.2" r="9.4" fill="none" stroke="#cc1108" stroke-width="3.15"/>
<circle cx="1678.8" cy="575.2" r="3.2" fill="#cc1108"/>
<circle cx="1661.9" cy="591" r="9.4" fill="none" stroke="#cc1108" stroke-width="3.15"/>
<circle cx="1662.5" cy="593" r="9.4" fill="none" stroke="#cc1108" stroke-width="3.15"/>
<circle cx="1635.6" cy="599.1" r="9.4" fill="none" stroke="#cc1108" stroke-width="3.15"/>
<circle cx="1677.7" cy="603.2" r="9.4" fill="none" stroke="#cc1108" stroke-width="3.15"/>
<circle cx="1677.7" cy="603.2" r="3.2" fill="#cc1108"/>
<circle cx="1698.1" cy="599.7" r="9.4" fill="none" stroke="#cc1108" stroke-width="3.15"/>
<circle cx="1699.8" cy="613.1" r="9.4" fill="none" stroke="#cc1108" stroke-width="3.15"/>
<circle cx="1699.8" cy="613.1" r="3.2" fill="#cc1108"/>
<circle cx="1615.2" cy="617.2" r="9.4" fill="none" stroke="#cc1108" stroke-width="3.15"/>
<circle cx="1756.7" cy="627.2" r="9.4" fill="none" stroke="#cc1108" stroke-width="3.15"/>
<circle cx="1762" cy="641.9" r="9.4" fill="none" stroke="#cc1108" stroke-width="3.15"/>
<circle cx="1762" cy="641.9" r="3.2" fill="#cc1108"/>
<circle cx="1812.7" cy="624.4" r="9.4" fill="none" stroke="#cc1108" stroke-width="3.15"/>
<circle cx="1812.7" cy="624.4" r="3.2" fill="#cc1108"/>
<circle cx="1660.7" cy="645.8" r="9.4" fill="none" stroke="#cc1108" stroke-width="3.15"/>
<circle cx="1660.7" cy="645.8" r="3.2" fill="#cc1108"/>
<circle cx="1694" cy="656.9" r="9.4" fill="none" stroke="#cc1108" stroke-width="3.15"/>
<circle cx="1691.1" cy="672.1" r="9.4" fill="none" stroke="#cc1108" stroke-width="3.15"/>
<circle cx="1882.1" cy="671" r="9.4" fill="none" stroke="#cc1108" stroke-width="3.15"/>
<text x="1529" y="834" font-size="58.5" text-anchor="start" font-family="'DejaVu Sans', 'Liberation Sans', sans-serif" stroke="#000" stroke-width="0.3" >j</text>
<line x1="1575.4" y1="803.6" x2="1575.4" y2="1121.75" stroke="#1a1a1a" stroke-width="1.5" />
<line x1="1574.65" y1="1121" x2="1893.5" y2="1121" stroke="#1a1a1a" stroke-width="1.5" />
<line x1="1575.4" y1="1121" x2="1578.9" y2="1121" stroke="#1a1a1a" stroke-width="1" />
<line x1="1575.4" y1="1082.08" x2="1577.4" y2="1082.08" stroke="#1a1a1a" stroke-width="1" />
<line x1="1575.4" y1="1059.31" x2="1577.4" y2="1059.31" stroke="#1a1a1a" stroke-width="1" />
<line x1="1575.4" y1="1043.15" x2="1577.4" y2="1043.15" stroke="#1a1a1a" stroke-width="1" />
<line x1="1575.4" y1="1030.62" x2="1577.4" y2="1030.62" stroke="#1a1a1a" stroke-width="1" />
<line x1="1575.4" y1="1020.39" x2="1577.4" y2="1020.39" stroke="#1a1a1a" stroke-width="1" />
<line x1="1575.4" y1="1011.73" x2="1577.4" y2="1011.73" stroke="#1a1a1a" stroke-width="1" />
<line x1="1575.4" y1="1004.23" x2="1577.4" y2="1004.23" stroke="#1a1a1a" stroke-width="1" />
<line x1="1575.4" y1="997.62" x2="1577.4" y2="997.62" stroke="#1a1a1a" stroke-width="1" />
<line x1="1575.4" y1="991.7" x2="1578.9" y2="991.7" stroke="#1a1a1a" stroke-width="1" />
<line x1="1575.4" y1="952.78" x2="1577.4" y2="952.78" stroke="#1a1a1a" stroke-width="1" />
<line x1="1575.4" y1="930.01" x2="1577.4" y2="930.01" stroke="#1a1a1a" stroke-width="1" />
<line x1="1575.4" y1="913.85" x2="1577.4" y2="913.85" stroke="#1a1a1a" stroke-width="1" />
<line x1="1575.4" y1="901.32" x2="1577.4" y2="901.32" stroke="#1a1a1a" stroke-width="1" />
<line x1="1575.4" y1="891.09" x2="1577.4" y2="891.09" stroke="#1a1a1a" stroke-width="1" />
<line x1="1575.4" y1="882.43" x2="1577.4" y2="882.43" stroke="#1a1a1a" stroke-width="1" />
<line x1="1575.4" y1="874.93" x2="1577.4" y2="874.93" stroke="#1a1a1a" stroke-width="1" />
<line x1="1575.4" y1="868.32" x2="1577.4" y2="868.32" stroke="#1a1a1a" stroke-width="1" />
<line x1="1575.4" y1="862.4" x2="1578.9" y2="862.4" stroke="#1a1a1a" stroke-width="1" />
<line x1="1575.4" y1="823.48" x2="1577.4" y2="823.48" stroke="#1a1a1a" stroke-width="1" />
<line x1="1575.4" y1="1121" x2="1575.4" y2="1117.5" stroke="#1a1a1a" stroke-width="1" />
<line x1="1623.35" y1="1121" x2="1623.35" y2="1119" stroke="#1a1a1a" stroke-width="1" />
<line x1="1651.41" y1="1121" x2="1651.41" y2="1119" stroke="#1a1a1a" stroke-width="1" />
<line x1="1671.31" y1="1121" x2="1671.31" y2="1119" stroke="#1a1a1a" stroke-width="1" />
<line x1="1686.75" y1="1121" x2="1686.75" y2="1119" stroke="#1a1a1a" stroke-width="1" />
<line x1="1699.36" y1="1121" x2="1699.36" y2="1119" stroke="#1a1a1a" stroke-width="1" />
<line x1="1710.02" y1="1121" x2="1710.02" y2="1119" stroke="#1a1a1a" stroke-width="1" />
<line x1="1719.26" y1="1121" x2="1719.26" y2="1119" stroke="#1a1a1a" stroke-width="1" />
<line x1="1727.41" y1="1121" x2="1727.41" y2="1119" stroke="#1a1a1a" stroke-width="1" />
<line x1="1734.7" y1="1121" x2="1734.7" y2="1117.5" stroke="#1a1a1a" stroke-width="1" />
<line x1="1782.65" y1="1121" x2="1782.65" y2="1119" stroke="#1a1a1a" stroke-width="1" />
<line x1="1810.71" y1="1121" x2="1810.71" y2="1119" stroke="#1a1a1a" stroke-width="1" />
<line x1="1830.61" y1="1121" x2="1830.61" y2="1119" stroke="#1a1a1a" stroke-width="1" />
<line x1="1846.05" y1="1121" x2="1846.05" y2="1119" stroke="#1a1a1a" stroke-width="1" />
<line x1="1858.66" y1="1121" x2="1858.66" y2="1119" stroke="#1a1a1a" stroke-width="1" />
<line x1="1869.32" y1="1121" x2="1869.32" y2="1119" stroke="#1a1a1a" stroke-width="1" />
<line x1="1878.56" y1="1121" x2="1878.56" y2="1119" stroke="#1a1a1a" stroke-width="1" />
<line x1="1886.71" y1="1121" x2="1886.71" y2="1119" stroke="#1a1a1a" stroke-width="1" />
<line x1="1894" y1="1121" x2="1894" y2="1117.5" stroke="#1a1a1a" stroke-width="1" />
<text x="0" y="0" font-size="29.5" text-anchor="end" font-family="'Liberation Sans', Arial, Helvetica, sans-serif" transform="translate(1567.5 875) scale(1 1.05)" stroke="#000" stroke-width="0.3" >0.1</text>
<text x="0" y="0" font-size="29.5" text-anchor="end" font-family="'Liberation Sans', Arial, Helvetica, sans-serif" transform="translate(1567.5 1005.5) scale(1 1.05)" stroke="#000" stroke-width="0.3" >0.01</text>
<text x="1576.3" y="1156.8" font-size="30.5" text-anchor="middle" font-family="'Liberation Sans', Arial, Helvetica, sans-serif" stroke="#000" stroke-width="0.3" >0.01</text>
<text x="1733" y="1156.8" font-size="30.5" text-anchor="middle" font-family="'Liberation Sans', Arial, Helvetica, sans-serif" stroke="#000" stroke-width="0.3" >0.1</text>
<text x="1736.7" y="1192.6" font-size="31.5" text-anchor="middle" font-family="'Liberation Sans', Arial, Helvetica, sans-serif" stroke="#000" stroke-width="0.3" >linh</text>
<text x="1511.2" y="960.2" font-size="33" font-family="'Liberation Sans', Arial, Helvetica, sans-serif" stroke="#000" stroke-width="0.3" transform="rotate(-90 1511.2 960.2)">c<tspan font-size="25.5" dy="10">min</tspan></text>
<polygon points="1643,834.62 1632.34,853.08 1653.66,853.08" fill="none" stroke="#000" stroke-width="3.4" stroke-linejoin="miter"/>
<polygon points="1697.1,848.62 1686.44,867.08 1707.76,867.08" fill="none" stroke="#000" stroke-width="3.4" stroke-linejoin="miter"/>
<polygon points="1651.1,862.62 1640.44,881.08 1661.76,881.08" fill="none" stroke="#000" stroke-width="3.4" stroke-linejoin="miter"/>
<polygon points="1659.1,862.62 1648.44,881.08 1669.76,881.08" fill="none" stroke="#000" stroke-width="3.4" stroke-linejoin="miter"/>
<polygon points="1685.1,868.62 1674.44,887.08 1695.76,887.08" fill="none" stroke="#000" stroke-width="3.4" stroke-linejoin="miter"/>
<polygon points="1623.5,880.72 1612.84,899.18 1634.16,899.18" fill="none" stroke="#000" stroke-width="3.4" stroke-linejoin="miter"/>
<polygon points="1638,901.72 1627.34,920.18 1648.66,920.18" fill="none" stroke="#000" stroke-width="3.4" stroke-linejoin="miter"/>
<polygon points="1683.1,907.72 1672.44,926.18 1693.76,926.18" fill="none" stroke="#000" stroke-width="3.4" stroke-linejoin="miter"/>
<rect x="1678.4" y="845.8" width="15.4" height="15.4" fill="none" stroke="#139013" stroke-width="3.15"/>
<circle cx="1686.1" cy="853.5" r="3.2" fill="#139013"/>
<rect x="1636.3" y="901.4" width="15.4" height="15.4" fill="none" stroke="#139013" stroke-width="3.15"/>
<circle cx="1644" cy="909.1" r="3.2" fill="#139013"/>
<rect x="1660.4" y="878.4" width="15.4" height="15.4" fill="none" stroke="#139013" stroke-width="3.15"/>
<rect x="1683.4" y="878.4" width="15.4" height="15.4" fill="none" stroke="#139013" stroke-width="3.15"/>
<rect x="1698.4" y="886.4" width="15.4" height="15.4" fill="none" stroke="#139013" stroke-width="3.15"/>
<rect x="1713.9" y="894.4" width="15.4" height="15.4" fill="none" stroke="#139013" stroke-width="3.15"/>
<rect x="1713.9" y="908.4" width="15.4" height="15.4" fill="none" stroke="#139013" stroke-width="3.15"/>
<circle cx="1721.6" cy="916.1" r="3.2" fill="#139013"/>
<rect x="1676.4" y="907.4" width="15.4" height="15.4" fill="none" stroke="#139013" stroke-width="3.15"/>
<circle cx="1684.1" cy="915.1" r="3.2" fill="#139013"/>
<rect x="1680.4" y="920.4" width="15.4" height="15.4" fill="none" stroke="#139013" stroke-width="3.15"/>
<rect x="1701.4" y="926.4" width="15.4" height="15.4" fill="none" stroke="#139013" stroke-width="3.15"/>
<rect x="1630.3" y="931.4" width="15.4" height="15.4" fill="none" stroke="#139013" stroke-width="3.15"/>
<rect x="1642.3" y="933.4" width="15.4" height="15.4" fill="none" stroke="#139013" stroke-width="3.15"/>
<rect x="1656.4" y="930.4" width="15.4" height="15.4" fill="none" stroke="#139013" stroke-width="3.15"/>
<rect x="1755.5" y="911.3" width="15.4" height="15.4" fill="none" stroke="#139013" stroke-width="3.15"/>
<circle cx="1763.2" cy="919" r="3.2" fill="#139013"/>
<circle cx="1881.9" cy="847.3" r="9.4" fill="none" stroke="#cc1108" stroke-width="3.15"/>
<circle cx="1639.5" cy="892.6" r="9.4" fill="none" stroke="#cc1108" stroke-width="3.15"/>
<circle cx="1639.5" cy="892.6" r="3.2" fill="#cc1108"/>
<circle cx="1661.1" cy="884.6" r="9.4" fill="none" stroke="#cc1108" stroke-width="3.15"/>
<circle cx="1670.1" cy="883.1" r="9.4" fill="none" stroke="#cc1108" stroke-width="3.15"/>
<circle cx="1678.1" cy="900.1" r="9.4" fill="none" stroke="#cc1108" stroke-width="3.15"/>
<circle cx="1687.1" cy="892.1" r="9.4" fill="none" stroke="#cc1108" stroke-width="3.15"/>
<circle cx="1694.1" cy="894.1" r="9.4" fill="none" stroke="#cc1108" stroke-width="3.15"/>
<circle cx="1699.1" cy="898.1" r="9.4" fill="none" stroke="#cc1108" stroke-width="3.15"/>
<circle cx="1700.1" cy="892.1" r="9.4" fill="none" stroke="#cc1108" stroke-width="3.15"/>
<circle cx="1690.1" cy="900.1" r="9.4" fill="none" stroke="#cc1108" stroke-width="3.15"/>
<circle cx="1615" cy="915.6" r="9.4" fill="none" stroke="#cc1108" stroke-width="3.15"/>
<circle cx="1631" cy="930.1" r="9.4" fill="none" stroke="#cc1108" stroke-width="3.15"/>
<circle cx="1631" cy="930.1" r="3.2" fill="#cc1108"/>
<circle cx="1635" cy="930.1" r="9.4" fill="none" stroke="#cc1108" stroke-width="3.15"/>
<circle cx="1660.1" cy="917.1" r="9.4" fill="none" stroke="#cc1108" stroke-width="3.15"/>
<circle cx="1660.1" cy="917.1" r="3.2" fill="#cc1108"/>
<circle cx="1661.6" cy="928.1" r="9.4" fill="none" stroke="#cc1108" stroke-width="3.15"/>
<circle cx="1686.1" cy="934.1" r="9.4" fill="none" stroke="#cc1108" stroke-width="3.15"/>
<circle cx="1762.5" cy="934" r="9.4" fill="none" stroke="#cc1108" stroke-width="3.15"/>
<circle cx="1762.5" cy="934" r="3.2" fill="#cc1108"/>
<circle cx="1757" cy="1018.6" r="9.4" fill="none" stroke="#cc1108" stroke-width="3.15"/>
<circle cx="1812.6" cy="1021.3" r="9.4" fill="none" stroke="#cc1108" stroke-width="3.15"/>
<circle cx="1812.6" cy="1021.3" r="3.2" fill="#cc1108"/>
<circle cx="1677.9" cy="1031.2" r="9.4" fill="none" stroke="#cc1108" stroke-width="3.15"/>
<circle cx="1677.9" cy="1031.2" r="3.2" fill="#cc1108"/>
<circle cx="1698.4" cy="1053.4" r="9.4" fill="none" stroke="#cc1108" stroke-width="3.15"/>
<circle cx="1723.9" cy="1083.4" r="9.4" fill="none" stroke="#cc1108" stroke-width="3.15"/>
<circle cx="1723.9" cy="1083.4" r="3.2" fill="#cc1108"/>
</svg>
</body></html>
